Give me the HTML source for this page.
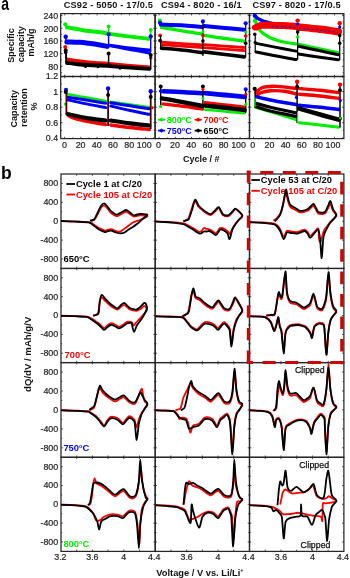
<!DOCTYPE html>
<html><head><meta charset="utf-8"><style>
html,body{margin:0;padding:0;background:#fff;}
svg{display:block;filter:blur(0.35px);}
text{font-family:"Liberation Sans", sans-serif;}
</style></head><body>
<svg width="350" height="578" viewBox="0 0 350 578">
<rect width="350" height="578" fill="#fff"/>
<rect x="60.7" y="13.6" width="94.4" height="62.9" fill="none" stroke="#262626" stroke-width="1.25"/>
<rect x="60.7" y="76.5" width="94.4" height="62.1" fill="none" stroke="#262626" stroke-width="1.25"/>
<line x1="64.7" y1="13.6" x2="64.7" y2="15.4" stroke="#262626" stroke-width="0.8"/>
<line x1="64.7" y1="76.5" x2="64.7" y2="74.7" stroke="#262626" stroke-width="0.8"/>
<line x1="64.7" y1="76.5" x2="64.7" y2="78.3" stroke="#262626" stroke-width="0.8"/>
<line x1="64.7" y1="138.6" x2="64.7" y2="136.8" stroke="#262626" stroke-width="0.8"/>
<line x1="72.8" y1="13.6" x2="72.8" y2="14.8" stroke="#262626" stroke-width="0.8"/>
<line x1="72.8" y1="76.5" x2="72.8" y2="75.3" stroke="#262626" stroke-width="0.8"/>
<line x1="72.8" y1="76.5" x2="72.8" y2="77.7" stroke="#262626" stroke-width="0.8"/>
<line x1="72.8" y1="138.6" x2="72.8" y2="137.4" stroke="#262626" stroke-width="0.8"/>
<line x1="80.9" y1="13.6" x2="80.9" y2="15.4" stroke="#262626" stroke-width="0.8"/>
<line x1="80.9" y1="76.5" x2="80.9" y2="74.7" stroke="#262626" stroke-width="0.8"/>
<line x1="80.9" y1="76.5" x2="80.9" y2="78.3" stroke="#262626" stroke-width="0.8"/>
<line x1="80.9" y1="138.6" x2="80.9" y2="136.8" stroke="#262626" stroke-width="0.8"/>
<line x1="89" y1="13.6" x2="89" y2="14.8" stroke="#262626" stroke-width="0.8"/>
<line x1="89" y1="76.5" x2="89" y2="75.3" stroke="#262626" stroke-width="0.8"/>
<line x1="89" y1="76.5" x2="89" y2="77.7" stroke="#262626" stroke-width="0.8"/>
<line x1="89" y1="138.6" x2="89" y2="137.4" stroke="#262626" stroke-width="0.8"/>
<line x1="97.1" y1="13.6" x2="97.1" y2="15.4" stroke="#262626" stroke-width="0.8"/>
<line x1="97.1" y1="76.5" x2="97.1" y2="74.7" stroke="#262626" stroke-width="0.8"/>
<line x1="97.1" y1="76.5" x2="97.1" y2="78.3" stroke="#262626" stroke-width="0.8"/>
<line x1="97.1" y1="138.6" x2="97.1" y2="136.8" stroke="#262626" stroke-width="0.8"/>
<line x1="105.2" y1="13.6" x2="105.2" y2="14.8" stroke="#262626" stroke-width="0.8"/>
<line x1="105.2" y1="76.5" x2="105.2" y2="75.3" stroke="#262626" stroke-width="0.8"/>
<line x1="105.2" y1="76.5" x2="105.2" y2="77.7" stroke="#262626" stroke-width="0.8"/>
<line x1="105.2" y1="138.6" x2="105.2" y2="137.4" stroke="#262626" stroke-width="0.8"/>
<line x1="113.3" y1="13.6" x2="113.3" y2="15.4" stroke="#262626" stroke-width="0.8"/>
<line x1="113.3" y1="76.5" x2="113.3" y2="74.7" stroke="#262626" stroke-width="0.8"/>
<line x1="113.3" y1="76.5" x2="113.3" y2="78.3" stroke="#262626" stroke-width="0.8"/>
<line x1="113.3" y1="138.6" x2="113.3" y2="136.8" stroke="#262626" stroke-width="0.8"/>
<line x1="121.4" y1="13.6" x2="121.4" y2="14.8" stroke="#262626" stroke-width="0.8"/>
<line x1="121.4" y1="76.5" x2="121.4" y2="75.3" stroke="#262626" stroke-width="0.8"/>
<line x1="121.4" y1="76.5" x2="121.4" y2="77.7" stroke="#262626" stroke-width="0.8"/>
<line x1="121.4" y1="138.6" x2="121.4" y2="137.4" stroke="#262626" stroke-width="0.8"/>
<line x1="129.5" y1="13.6" x2="129.5" y2="15.4" stroke="#262626" stroke-width="0.8"/>
<line x1="129.5" y1="76.5" x2="129.5" y2="74.7" stroke="#262626" stroke-width="0.8"/>
<line x1="129.5" y1="76.5" x2="129.5" y2="78.3" stroke="#262626" stroke-width="0.8"/>
<line x1="129.5" y1="138.6" x2="129.5" y2="136.8" stroke="#262626" stroke-width="0.8"/>
<line x1="137.6" y1="13.6" x2="137.6" y2="14.8" stroke="#262626" stroke-width="0.8"/>
<line x1="137.6" y1="76.5" x2="137.6" y2="75.3" stroke="#262626" stroke-width="0.8"/>
<line x1="137.6" y1="76.5" x2="137.6" y2="77.7" stroke="#262626" stroke-width="0.8"/>
<line x1="137.6" y1="138.6" x2="137.6" y2="137.4" stroke="#262626" stroke-width="0.8"/>
<line x1="145.7" y1="13.6" x2="145.7" y2="15.4" stroke="#262626" stroke-width="0.8"/>
<line x1="145.7" y1="76.5" x2="145.7" y2="74.7" stroke="#262626" stroke-width="0.8"/>
<line x1="145.7" y1="76.5" x2="145.7" y2="78.3" stroke="#262626" stroke-width="0.8"/>
<line x1="145.7" y1="138.6" x2="145.7" y2="136.8" stroke="#262626" stroke-width="0.8"/>
<line x1="153.8" y1="13.6" x2="153.8" y2="14.8" stroke="#262626" stroke-width="0.8"/>
<line x1="153.8" y1="76.5" x2="153.8" y2="75.3" stroke="#262626" stroke-width="0.8"/>
<line x1="153.8" y1="76.5" x2="153.8" y2="77.7" stroke="#262626" stroke-width="0.8"/>
<line x1="153.8" y1="138.6" x2="153.8" y2="137.4" stroke="#262626" stroke-width="0.8"/>
<rect x="155.1" y="13.6" width="94.4" height="62.9" fill="none" stroke="#262626" stroke-width="1.25"/>
<rect x="155.1" y="76.5" width="94.4" height="62.1" fill="none" stroke="#262626" stroke-width="1.25"/>
<line x1="159.1" y1="13.6" x2="159.1" y2="15.4" stroke="#262626" stroke-width="0.8"/>
<line x1="159.1" y1="76.5" x2="159.1" y2="74.7" stroke="#262626" stroke-width="0.8"/>
<line x1="159.1" y1="76.5" x2="159.1" y2="78.3" stroke="#262626" stroke-width="0.8"/>
<line x1="159.1" y1="138.6" x2="159.1" y2="136.8" stroke="#262626" stroke-width="0.8"/>
<line x1="167.2" y1="13.6" x2="167.2" y2="14.8" stroke="#262626" stroke-width="0.8"/>
<line x1="167.2" y1="76.5" x2="167.2" y2="75.3" stroke="#262626" stroke-width="0.8"/>
<line x1="167.2" y1="76.5" x2="167.2" y2="77.7" stroke="#262626" stroke-width="0.8"/>
<line x1="167.2" y1="138.6" x2="167.2" y2="137.4" stroke="#262626" stroke-width="0.8"/>
<line x1="175.3" y1="13.6" x2="175.3" y2="15.4" stroke="#262626" stroke-width="0.8"/>
<line x1="175.3" y1="76.5" x2="175.3" y2="74.7" stroke="#262626" stroke-width="0.8"/>
<line x1="175.3" y1="76.5" x2="175.3" y2="78.3" stroke="#262626" stroke-width="0.8"/>
<line x1="175.3" y1="138.6" x2="175.3" y2="136.8" stroke="#262626" stroke-width="0.8"/>
<line x1="183.4" y1="13.6" x2="183.4" y2="14.8" stroke="#262626" stroke-width="0.8"/>
<line x1="183.4" y1="76.5" x2="183.4" y2="75.3" stroke="#262626" stroke-width="0.8"/>
<line x1="183.4" y1="76.5" x2="183.4" y2="77.7" stroke="#262626" stroke-width="0.8"/>
<line x1="183.4" y1="138.6" x2="183.4" y2="137.4" stroke="#262626" stroke-width="0.8"/>
<line x1="191.5" y1="13.6" x2="191.5" y2="15.4" stroke="#262626" stroke-width="0.8"/>
<line x1="191.5" y1="76.5" x2="191.5" y2="74.7" stroke="#262626" stroke-width="0.8"/>
<line x1="191.5" y1="76.5" x2="191.5" y2="78.3" stroke="#262626" stroke-width="0.8"/>
<line x1="191.5" y1="138.6" x2="191.5" y2="136.8" stroke="#262626" stroke-width="0.8"/>
<line x1="199.6" y1="13.6" x2="199.6" y2="14.8" stroke="#262626" stroke-width="0.8"/>
<line x1="199.6" y1="76.5" x2="199.6" y2="75.3" stroke="#262626" stroke-width="0.8"/>
<line x1="199.6" y1="76.5" x2="199.6" y2="77.7" stroke="#262626" stroke-width="0.8"/>
<line x1="199.6" y1="138.6" x2="199.6" y2="137.4" stroke="#262626" stroke-width="0.8"/>
<line x1="207.7" y1="13.6" x2="207.7" y2="15.4" stroke="#262626" stroke-width="0.8"/>
<line x1="207.7" y1="76.5" x2="207.7" y2="74.7" stroke="#262626" stroke-width="0.8"/>
<line x1="207.7" y1="76.5" x2="207.7" y2="78.3" stroke="#262626" stroke-width="0.8"/>
<line x1="207.7" y1="138.6" x2="207.7" y2="136.8" stroke="#262626" stroke-width="0.8"/>
<line x1="215.8" y1="13.6" x2="215.8" y2="14.8" stroke="#262626" stroke-width="0.8"/>
<line x1="215.8" y1="76.5" x2="215.8" y2="75.3" stroke="#262626" stroke-width="0.8"/>
<line x1="215.8" y1="76.5" x2="215.8" y2="77.7" stroke="#262626" stroke-width="0.8"/>
<line x1="215.8" y1="138.6" x2="215.8" y2="137.4" stroke="#262626" stroke-width="0.8"/>
<line x1="223.9" y1="13.6" x2="223.9" y2="15.4" stroke="#262626" stroke-width="0.8"/>
<line x1="223.9" y1="76.5" x2="223.9" y2="74.7" stroke="#262626" stroke-width="0.8"/>
<line x1="223.9" y1="76.5" x2="223.9" y2="78.3" stroke="#262626" stroke-width="0.8"/>
<line x1="223.9" y1="138.6" x2="223.9" y2="136.8" stroke="#262626" stroke-width="0.8"/>
<line x1="232" y1="13.6" x2="232" y2="14.8" stroke="#262626" stroke-width="0.8"/>
<line x1="232" y1="76.5" x2="232" y2="75.3" stroke="#262626" stroke-width="0.8"/>
<line x1="232" y1="76.5" x2="232" y2="77.7" stroke="#262626" stroke-width="0.8"/>
<line x1="232" y1="138.6" x2="232" y2="137.4" stroke="#262626" stroke-width="0.8"/>
<line x1="240.1" y1="13.6" x2="240.1" y2="15.4" stroke="#262626" stroke-width="0.8"/>
<line x1="240.1" y1="76.5" x2="240.1" y2="74.7" stroke="#262626" stroke-width="0.8"/>
<line x1="240.1" y1="76.5" x2="240.1" y2="78.3" stroke="#262626" stroke-width="0.8"/>
<line x1="240.1" y1="138.6" x2="240.1" y2="136.8" stroke="#262626" stroke-width="0.8"/>
<line x1="248.2" y1="13.6" x2="248.2" y2="14.8" stroke="#262626" stroke-width="0.8"/>
<line x1="248.2" y1="76.5" x2="248.2" y2="75.3" stroke="#262626" stroke-width="0.8"/>
<line x1="248.2" y1="76.5" x2="248.2" y2="77.7" stroke="#262626" stroke-width="0.8"/>
<line x1="248.2" y1="138.6" x2="248.2" y2="137.4" stroke="#262626" stroke-width="0.8"/>
<rect x="249.5" y="13.6" width="94.4" height="62.9" fill="none" stroke="#262626" stroke-width="1.25"/>
<rect x="249.5" y="76.5" width="94.4" height="62.1" fill="none" stroke="#262626" stroke-width="1.25"/>
<line x1="253.5" y1="13.6" x2="253.5" y2="15.4" stroke="#262626" stroke-width="0.8"/>
<line x1="253.5" y1="76.5" x2="253.5" y2="74.7" stroke="#262626" stroke-width="0.8"/>
<line x1="253.5" y1="76.5" x2="253.5" y2="78.3" stroke="#262626" stroke-width="0.8"/>
<line x1="253.5" y1="138.6" x2="253.5" y2="136.8" stroke="#262626" stroke-width="0.8"/>
<line x1="261.6" y1="13.6" x2="261.6" y2="14.8" stroke="#262626" stroke-width="0.8"/>
<line x1="261.6" y1="76.5" x2="261.6" y2="75.3" stroke="#262626" stroke-width="0.8"/>
<line x1="261.6" y1="76.5" x2="261.6" y2="77.7" stroke="#262626" stroke-width="0.8"/>
<line x1="261.6" y1="138.6" x2="261.6" y2="137.4" stroke="#262626" stroke-width="0.8"/>
<line x1="269.7" y1="13.6" x2="269.7" y2="15.4" stroke="#262626" stroke-width="0.8"/>
<line x1="269.7" y1="76.5" x2="269.7" y2="74.7" stroke="#262626" stroke-width="0.8"/>
<line x1="269.7" y1="76.5" x2="269.7" y2="78.3" stroke="#262626" stroke-width="0.8"/>
<line x1="269.7" y1="138.6" x2="269.7" y2="136.8" stroke="#262626" stroke-width="0.8"/>
<line x1="277.8" y1="13.6" x2="277.8" y2="14.8" stroke="#262626" stroke-width="0.8"/>
<line x1="277.8" y1="76.5" x2="277.8" y2="75.3" stroke="#262626" stroke-width="0.8"/>
<line x1="277.8" y1="76.5" x2="277.8" y2="77.7" stroke="#262626" stroke-width="0.8"/>
<line x1="277.8" y1="138.6" x2="277.8" y2="137.4" stroke="#262626" stroke-width="0.8"/>
<line x1="285.9" y1="13.6" x2="285.9" y2="15.4" stroke="#262626" stroke-width="0.8"/>
<line x1="285.9" y1="76.5" x2="285.9" y2="74.7" stroke="#262626" stroke-width="0.8"/>
<line x1="285.9" y1="76.5" x2="285.9" y2="78.3" stroke="#262626" stroke-width="0.8"/>
<line x1="285.9" y1="138.6" x2="285.9" y2="136.8" stroke="#262626" stroke-width="0.8"/>
<line x1="294" y1="13.6" x2="294" y2="14.8" stroke="#262626" stroke-width="0.8"/>
<line x1="294" y1="76.5" x2="294" y2="75.3" stroke="#262626" stroke-width="0.8"/>
<line x1="294" y1="76.5" x2="294" y2="77.7" stroke="#262626" stroke-width="0.8"/>
<line x1="294" y1="138.6" x2="294" y2="137.4" stroke="#262626" stroke-width="0.8"/>
<line x1="302.1" y1="13.6" x2="302.1" y2="15.4" stroke="#262626" stroke-width="0.8"/>
<line x1="302.1" y1="76.5" x2="302.1" y2="74.7" stroke="#262626" stroke-width="0.8"/>
<line x1="302.1" y1="76.5" x2="302.1" y2="78.3" stroke="#262626" stroke-width="0.8"/>
<line x1="302.1" y1="138.6" x2="302.1" y2="136.8" stroke="#262626" stroke-width="0.8"/>
<line x1="310.2" y1="13.6" x2="310.2" y2="14.8" stroke="#262626" stroke-width="0.8"/>
<line x1="310.2" y1="76.5" x2="310.2" y2="75.3" stroke="#262626" stroke-width="0.8"/>
<line x1="310.2" y1="76.5" x2="310.2" y2="77.7" stroke="#262626" stroke-width="0.8"/>
<line x1="310.2" y1="138.6" x2="310.2" y2="137.4" stroke="#262626" stroke-width="0.8"/>
<line x1="318.3" y1="13.6" x2="318.3" y2="15.4" stroke="#262626" stroke-width="0.8"/>
<line x1="318.3" y1="76.5" x2="318.3" y2="74.7" stroke="#262626" stroke-width="0.8"/>
<line x1="318.3" y1="76.5" x2="318.3" y2="78.3" stroke="#262626" stroke-width="0.8"/>
<line x1="318.3" y1="138.6" x2="318.3" y2="136.8" stroke="#262626" stroke-width="0.8"/>
<line x1="326.4" y1="13.6" x2="326.4" y2="14.8" stroke="#262626" stroke-width="0.8"/>
<line x1="326.4" y1="76.5" x2="326.4" y2="75.3" stroke="#262626" stroke-width="0.8"/>
<line x1="326.4" y1="76.5" x2="326.4" y2="77.7" stroke="#262626" stroke-width="0.8"/>
<line x1="326.4" y1="138.6" x2="326.4" y2="137.4" stroke="#262626" stroke-width="0.8"/>
<line x1="334.5" y1="13.6" x2="334.5" y2="15.4" stroke="#262626" stroke-width="0.8"/>
<line x1="334.5" y1="76.5" x2="334.5" y2="74.7" stroke="#262626" stroke-width="0.8"/>
<line x1="334.5" y1="76.5" x2="334.5" y2="78.3" stroke="#262626" stroke-width="0.8"/>
<line x1="334.5" y1="138.6" x2="334.5" y2="136.8" stroke="#262626" stroke-width="0.8"/>
<line x1="342.6" y1="13.6" x2="342.6" y2="14.8" stroke="#262626" stroke-width="0.8"/>
<line x1="342.6" y1="76.5" x2="342.6" y2="75.3" stroke="#262626" stroke-width="0.8"/>
<line x1="342.6" y1="76.5" x2="342.6" y2="77.7" stroke="#262626" stroke-width="0.8"/>
<line x1="342.6" y1="138.6" x2="342.6" y2="137.4" stroke="#262626" stroke-width="0.8"/>
<line x1="60.7" y1="72.66" x2="61.9" y2="72.66" stroke="#262626" stroke-width="0.8"/>
<line x1="155.1" y1="72.66" x2="153.9" y2="72.66" stroke="#262626" stroke-width="0.8"/>
<line x1="60.7" y1="66.32" x2="62.5" y2="66.32" stroke="#262626" stroke-width="0.8"/>
<line x1="155.1" y1="66.32" x2="153.3" y2="66.32" stroke="#262626" stroke-width="0.8"/>
<line x1="60.7" y1="59.98" x2="61.9" y2="59.98" stroke="#262626" stroke-width="0.8"/>
<line x1="155.1" y1="59.98" x2="153.9" y2="59.98" stroke="#262626" stroke-width="0.8"/>
<line x1="60.7" y1="53.64" x2="62.5" y2="53.64" stroke="#262626" stroke-width="0.8"/>
<line x1="155.1" y1="53.64" x2="153.3" y2="53.64" stroke="#262626" stroke-width="0.8"/>
<line x1="60.7" y1="47.3" x2="61.9" y2="47.3" stroke="#262626" stroke-width="0.8"/>
<line x1="155.1" y1="47.3" x2="153.9" y2="47.3" stroke="#262626" stroke-width="0.8"/>
<line x1="60.7" y1="40.96" x2="62.5" y2="40.96" stroke="#262626" stroke-width="0.8"/>
<line x1="155.1" y1="40.96" x2="153.3" y2="40.96" stroke="#262626" stroke-width="0.8"/>
<line x1="60.7" y1="34.62" x2="61.9" y2="34.62" stroke="#262626" stroke-width="0.8"/>
<line x1="155.1" y1="34.62" x2="153.9" y2="34.62" stroke="#262626" stroke-width="0.8"/>
<line x1="60.7" y1="28.28" x2="62.5" y2="28.28" stroke="#262626" stroke-width="0.8"/>
<line x1="155.1" y1="28.28" x2="153.3" y2="28.28" stroke="#262626" stroke-width="0.8"/>
<line x1="60.7" y1="21.94" x2="61.9" y2="21.94" stroke="#262626" stroke-width="0.8"/>
<line x1="155.1" y1="21.94" x2="153.9" y2="21.94" stroke="#262626" stroke-width="0.8"/>
<line x1="60.7" y1="15.6" x2="62.5" y2="15.6" stroke="#262626" stroke-width="0.8"/>
<line x1="155.1" y1="15.6" x2="153.3" y2="15.6" stroke="#262626" stroke-width="0.8"/>
<line x1="60.7" y1="130.45" x2="61.9" y2="130.45" stroke="#262626" stroke-width="0.8"/>
<line x1="155.1" y1="130.45" x2="153.9" y2="130.45" stroke="#262626" stroke-width="0.8"/>
<line x1="60.7" y1="122.7" x2="62.5" y2="122.7" stroke="#262626" stroke-width="0.8"/>
<line x1="155.1" y1="122.7" x2="153.3" y2="122.7" stroke="#262626" stroke-width="0.8"/>
<line x1="60.7" y1="114.95" x2="61.9" y2="114.95" stroke="#262626" stroke-width="0.8"/>
<line x1="155.1" y1="114.95" x2="153.9" y2="114.95" stroke="#262626" stroke-width="0.8"/>
<line x1="60.7" y1="107.2" x2="62.5" y2="107.2" stroke="#262626" stroke-width="0.8"/>
<line x1="155.1" y1="107.2" x2="153.3" y2="107.2" stroke="#262626" stroke-width="0.8"/>
<line x1="60.7" y1="99.45" x2="61.9" y2="99.45" stroke="#262626" stroke-width="0.8"/>
<line x1="155.1" y1="99.45" x2="153.9" y2="99.45" stroke="#262626" stroke-width="0.8"/>
<line x1="60.7" y1="91.7" x2="62.5" y2="91.7" stroke="#262626" stroke-width="0.8"/>
<line x1="155.1" y1="91.7" x2="153.3" y2="91.7" stroke="#262626" stroke-width="0.8"/>
<line x1="60.7" y1="83.95" x2="61.9" y2="83.95" stroke="#262626" stroke-width="0.8"/>
<line x1="155.1" y1="83.95" x2="153.9" y2="83.95" stroke="#262626" stroke-width="0.8"/>
<line x1="155.1" y1="72.66" x2="156.3" y2="72.66" stroke="#262626" stroke-width="0.8"/>
<line x1="249.5" y1="72.66" x2="248.3" y2="72.66" stroke="#262626" stroke-width="0.8"/>
<line x1="155.1" y1="66.32" x2="156.9" y2="66.32" stroke="#262626" stroke-width="0.8"/>
<line x1="249.5" y1="66.32" x2="247.7" y2="66.32" stroke="#262626" stroke-width="0.8"/>
<line x1="155.1" y1="59.98" x2="156.3" y2="59.98" stroke="#262626" stroke-width="0.8"/>
<line x1="249.5" y1="59.98" x2="248.3" y2="59.98" stroke="#262626" stroke-width="0.8"/>
<line x1="155.1" y1="53.64" x2="156.9" y2="53.64" stroke="#262626" stroke-width="0.8"/>
<line x1="249.5" y1="53.64" x2="247.7" y2="53.64" stroke="#262626" stroke-width="0.8"/>
<line x1="155.1" y1="47.3" x2="156.3" y2="47.3" stroke="#262626" stroke-width="0.8"/>
<line x1="249.5" y1="47.3" x2="248.3" y2="47.3" stroke="#262626" stroke-width="0.8"/>
<line x1="155.1" y1="40.96" x2="156.9" y2="40.96" stroke="#262626" stroke-width="0.8"/>
<line x1="249.5" y1="40.96" x2="247.7" y2="40.96" stroke="#262626" stroke-width="0.8"/>
<line x1="155.1" y1="34.62" x2="156.3" y2="34.62" stroke="#262626" stroke-width="0.8"/>
<line x1="249.5" y1="34.62" x2="248.3" y2="34.62" stroke="#262626" stroke-width="0.8"/>
<line x1="155.1" y1="28.28" x2="156.9" y2="28.28" stroke="#262626" stroke-width="0.8"/>
<line x1="249.5" y1="28.28" x2="247.7" y2="28.28" stroke="#262626" stroke-width="0.8"/>
<line x1="155.1" y1="21.94" x2="156.3" y2="21.94" stroke="#262626" stroke-width="0.8"/>
<line x1="249.5" y1="21.94" x2="248.3" y2="21.94" stroke="#262626" stroke-width="0.8"/>
<line x1="155.1" y1="15.6" x2="156.9" y2="15.6" stroke="#262626" stroke-width="0.8"/>
<line x1="249.5" y1="15.6" x2="247.7" y2="15.6" stroke="#262626" stroke-width="0.8"/>
<line x1="155.1" y1="130.45" x2="156.3" y2="130.45" stroke="#262626" stroke-width="0.8"/>
<line x1="249.5" y1="130.45" x2="248.3" y2="130.45" stroke="#262626" stroke-width="0.8"/>
<line x1="155.1" y1="122.7" x2="156.9" y2="122.7" stroke="#262626" stroke-width="0.8"/>
<line x1="249.5" y1="122.7" x2="247.7" y2="122.7" stroke="#262626" stroke-width="0.8"/>
<line x1="155.1" y1="114.95" x2="156.3" y2="114.95" stroke="#262626" stroke-width="0.8"/>
<line x1="249.5" y1="114.95" x2="248.3" y2="114.95" stroke="#262626" stroke-width="0.8"/>
<line x1="155.1" y1="107.2" x2="156.9" y2="107.2" stroke="#262626" stroke-width="0.8"/>
<line x1="249.5" y1="107.2" x2="247.7" y2="107.2" stroke="#262626" stroke-width="0.8"/>
<line x1="155.1" y1="99.45" x2="156.3" y2="99.45" stroke="#262626" stroke-width="0.8"/>
<line x1="249.5" y1="99.45" x2="248.3" y2="99.45" stroke="#262626" stroke-width="0.8"/>
<line x1="155.1" y1="91.7" x2="156.9" y2="91.7" stroke="#262626" stroke-width="0.8"/>
<line x1="249.5" y1="91.7" x2="247.7" y2="91.7" stroke="#262626" stroke-width="0.8"/>
<line x1="155.1" y1="83.95" x2="156.3" y2="83.95" stroke="#262626" stroke-width="0.8"/>
<line x1="249.5" y1="83.95" x2="248.3" y2="83.95" stroke="#262626" stroke-width="0.8"/>
<line x1="249.5" y1="72.66" x2="250.7" y2="72.66" stroke="#262626" stroke-width="0.8"/>
<line x1="343.9" y1="72.66" x2="342.7" y2="72.66" stroke="#262626" stroke-width="0.8"/>
<line x1="249.5" y1="66.32" x2="251.3" y2="66.32" stroke="#262626" stroke-width="0.8"/>
<line x1="343.9" y1="66.32" x2="342.1" y2="66.32" stroke="#262626" stroke-width="0.8"/>
<line x1="249.5" y1="59.98" x2="250.7" y2="59.98" stroke="#262626" stroke-width="0.8"/>
<line x1="343.9" y1="59.98" x2="342.7" y2="59.98" stroke="#262626" stroke-width="0.8"/>
<line x1="249.5" y1="53.64" x2="251.3" y2="53.64" stroke="#262626" stroke-width="0.8"/>
<line x1="343.9" y1="53.64" x2="342.1" y2="53.64" stroke="#262626" stroke-width="0.8"/>
<line x1="249.5" y1="47.3" x2="250.7" y2="47.3" stroke="#262626" stroke-width="0.8"/>
<line x1="343.9" y1="47.3" x2="342.7" y2="47.3" stroke="#262626" stroke-width="0.8"/>
<line x1="249.5" y1="40.96" x2="251.3" y2="40.96" stroke="#262626" stroke-width="0.8"/>
<line x1="343.9" y1="40.96" x2="342.1" y2="40.96" stroke="#262626" stroke-width="0.8"/>
<line x1="249.5" y1="34.62" x2="250.7" y2="34.62" stroke="#262626" stroke-width="0.8"/>
<line x1="343.9" y1="34.62" x2="342.7" y2="34.62" stroke="#262626" stroke-width="0.8"/>
<line x1="249.5" y1="28.28" x2="251.3" y2="28.28" stroke="#262626" stroke-width="0.8"/>
<line x1="343.9" y1="28.28" x2="342.1" y2="28.28" stroke="#262626" stroke-width="0.8"/>
<line x1="249.5" y1="21.94" x2="250.7" y2="21.94" stroke="#262626" stroke-width="0.8"/>
<line x1="343.9" y1="21.94" x2="342.7" y2="21.94" stroke="#262626" stroke-width="0.8"/>
<line x1="249.5" y1="15.6" x2="251.3" y2="15.6" stroke="#262626" stroke-width="0.8"/>
<line x1="343.9" y1="15.6" x2="342.1" y2="15.6" stroke="#262626" stroke-width="0.8"/>
<line x1="249.5" y1="130.45" x2="250.7" y2="130.45" stroke="#262626" stroke-width="0.8"/>
<line x1="343.9" y1="130.45" x2="342.7" y2="130.45" stroke="#262626" stroke-width="0.8"/>
<line x1="249.5" y1="122.7" x2="251.3" y2="122.7" stroke="#262626" stroke-width="0.8"/>
<line x1="343.9" y1="122.7" x2="342.1" y2="122.7" stroke="#262626" stroke-width="0.8"/>
<line x1="249.5" y1="114.95" x2="250.7" y2="114.95" stroke="#262626" stroke-width="0.8"/>
<line x1="343.9" y1="114.95" x2="342.7" y2="114.95" stroke="#262626" stroke-width="0.8"/>
<line x1="249.5" y1="107.2" x2="251.3" y2="107.2" stroke="#262626" stroke-width="0.8"/>
<line x1="343.9" y1="107.2" x2="342.1" y2="107.2" stroke="#262626" stroke-width="0.8"/>
<line x1="249.5" y1="99.45" x2="250.7" y2="99.45" stroke="#262626" stroke-width="0.8"/>
<line x1="343.9" y1="99.45" x2="342.7" y2="99.45" stroke="#262626" stroke-width="0.8"/>
<line x1="249.5" y1="91.7" x2="251.3" y2="91.7" stroke="#262626" stroke-width="0.8"/>
<line x1="343.9" y1="91.7" x2="342.1" y2="91.7" stroke="#262626" stroke-width="0.8"/>
<line x1="249.5" y1="83.95" x2="250.7" y2="83.95" stroke="#262626" stroke-width="0.8"/>
<line x1="343.9" y1="83.95" x2="342.7" y2="83.95" stroke="#262626" stroke-width="0.8"/>
<text x="58.2" y="18.89" font-size="8.9" font-weight="normal" text-anchor="end" fill="#1a1a1a"  stroke="#1a1a1a" stroke-width="0.18">240</text>
<text x="58.2" y="31.57" font-size="8.9" font-weight="normal" text-anchor="end" fill="#1a1a1a"  stroke="#1a1a1a" stroke-width="0.18">200</text>
<text x="58.2" y="44.25" font-size="8.9" font-weight="normal" text-anchor="end" fill="#1a1a1a"  stroke="#1a1a1a" stroke-width="0.18">160</text>
<text x="58.2" y="56.93" font-size="8.9" font-weight="normal" text-anchor="end" fill="#1a1a1a"  stroke="#1a1a1a" stroke-width="0.18">120</text>
<text x="58.2" y="69.61" font-size="8.9" font-weight="normal" text-anchor="end" fill="#1a1a1a"  stroke="#1a1a1a" stroke-width="0.18">80</text>
<text x="58.2" y="79.49" font-size="8.9" font-weight="normal" text-anchor="end" fill="#1a1a1a"  stroke="#1a1a1a" stroke-width="0.18">1.2</text>
<text x="58.2" y="94.99" font-size="8.9" font-weight="normal" text-anchor="end" fill="#1a1a1a"  stroke="#1a1a1a" stroke-width="0.18">1</text>
<text x="58.2" y="110.49" font-size="8.9" font-weight="normal" text-anchor="end" fill="#1a1a1a"  stroke="#1a1a1a" stroke-width="0.18">0.8</text>
<text x="58.2" y="125.99" font-size="8.9" font-weight="normal" text-anchor="end" fill="#1a1a1a"  stroke="#1a1a1a" stroke-width="0.18">0.6</text>
<text x="58.2" y="141.49" font-size="8.9" font-weight="normal" text-anchor="end" fill="#1a1a1a"  stroke="#1a1a1a" stroke-width="0.18">0.4</text>
<text x="64.4" y="148.1" font-size="8.9" font-weight="normal" text-anchor="middle" fill="#1a1a1a"  stroke="#1a1a1a" stroke-width="0.18">0</text>
<text x="80.6" y="148.1" font-size="8.9" font-weight="normal" text-anchor="middle" fill="#1a1a1a"  stroke="#1a1a1a" stroke-width="0.18">20</text>
<text x="96.8" y="148.1" font-size="8.9" font-weight="normal" text-anchor="middle" fill="#1a1a1a"  stroke="#1a1a1a" stroke-width="0.18">40</text>
<text x="113" y="148.1" font-size="8.9" font-weight="normal" text-anchor="middle" fill="#1a1a1a"  stroke="#1a1a1a" stroke-width="0.18">60</text>
<text x="129.2" y="148.1" font-size="8.9" font-weight="normal" text-anchor="middle" fill="#1a1a1a"  stroke="#1a1a1a" stroke-width="0.18">80</text>
<text x="144.2" y="148.1" font-size="8.9" font-weight="normal" text-anchor="middle" fill="#1a1a1a"  stroke="#1a1a1a" stroke-width="0.18">100</text>
<text x="158.4" y="148.1" font-size="8.9" font-weight="normal" text-anchor="middle" fill="#1a1a1a"  stroke="#1a1a1a" stroke-width="0.18">0</text>
<text x="175" y="148.1" font-size="8.9" font-weight="normal" text-anchor="middle" fill="#1a1a1a"  stroke="#1a1a1a" stroke-width="0.18">20</text>
<text x="191.2" y="148.1" font-size="8.9" font-weight="normal" text-anchor="middle" fill="#1a1a1a"  stroke="#1a1a1a" stroke-width="0.18">40</text>
<text x="207.4" y="148.1" font-size="8.9" font-weight="normal" text-anchor="middle" fill="#1a1a1a"  stroke="#1a1a1a" stroke-width="0.18">60</text>
<text x="223.6" y="148.1" font-size="8.9" font-weight="normal" text-anchor="middle" fill="#1a1a1a"  stroke="#1a1a1a" stroke-width="0.18">80</text>
<text x="238.6" y="148.1" font-size="8.9" font-weight="normal" text-anchor="middle" fill="#1a1a1a"  stroke="#1a1a1a" stroke-width="0.18">100</text>
<text x="252.8" y="148.1" font-size="8.9" font-weight="normal" text-anchor="middle" fill="#1a1a1a"  stroke="#1a1a1a" stroke-width="0.18">0</text>
<text x="269.4" y="148.1" font-size="8.9" font-weight="normal" text-anchor="middle" fill="#1a1a1a"  stroke="#1a1a1a" stroke-width="0.18">20</text>
<text x="285.6" y="148.1" font-size="8.9" font-weight="normal" text-anchor="middle" fill="#1a1a1a"  stroke="#1a1a1a" stroke-width="0.18">40</text>
<text x="301.8" y="148.1" font-size="8.9" font-weight="normal" text-anchor="middle" fill="#1a1a1a"  stroke="#1a1a1a" stroke-width="0.18">60</text>
<text x="318" y="148.1" font-size="8.9" font-weight="normal" text-anchor="middle" fill="#1a1a1a"  stroke="#1a1a1a" stroke-width="0.18">80</text>
<text x="333" y="148.1" font-size="8.9" font-weight="normal" text-anchor="middle" fill="#1a1a1a"  stroke="#1a1a1a" stroke-width="0.18">100</text>
<text x="63.7" y="8.4" font-size="9.2" font-weight="bold" text-anchor="start" fill="#111" textLength="89.2" lengthAdjust="spacing">CS92 - 5050 - 17/0.5</text>
<text x="161" y="8.4" font-size="9.2" font-weight="bold" text-anchor="start" fill="#111" textLength="80.6" lengthAdjust="spacing">CS94 - 8020 - 16/1</text>
<text x="252.5" y="8.4" font-size="9.2" font-weight="bold" text-anchor="start" fill="#111" textLength="88.0" lengthAdjust="spacing">CS97 - 8020 - 17/0.5</text>
<text transform="scale(0.8,1)" x="1.6" y="9.9" font-size="17.5" font-weight="bold" fill="#000">a</text>
<text x="1" y="178.9" font-size="17.5" font-weight="bold" text-anchor="start" fill="#000" >b</text>
<text transform="translate(13.6,45.4) rotate(-90)" x="0" y="0" font-size="9" font-weight="bold" text-anchor="middle" fill="#111">Specific</text>
<text transform="translate(23.6,44.2) rotate(-90)" x="0" y="0" font-size="9" font-weight="bold" text-anchor="middle" fill="#111">capacity</text>
<text transform="translate(33.6,42.4) rotate(-90)" x="0" y="0" font-size="9" font-weight="bold" text-anchor="middle" fill="#111">mAh/g</text>
<text transform="translate(16.9,108.8) rotate(-90)" x="0" y="0" font-size="9" font-weight="bold" text-anchor="middle" fill="#111">Capacity</text>
<text transform="translate(26.9,107.4) rotate(-90)" x="0" y="0" font-size="9" font-weight="bold" text-anchor="middle" fill="#111">retention</text>
<text transform="translate(36.9,106.6) rotate(-90)" x="0" y="0" font-size="9" font-weight="bold" text-anchor="middle" fill="#111">%</text>
<text x="183" y="161.8" font-size="9" font-weight="bold" text-anchor="start" fill="#111" >Cycle / #</text>
<line x1="157.9" y1="119.7" x2="165.1" y2="119.7" stroke="#00ee00" stroke-width="1.7"/>
<path d="M161.5,117.6 l2.7,2.1 l-2.7,2.1 l-2.7,-2.1 z" fill="#00ee00"/>
<text x="166.8" y="122.9" font-size="9" font-weight="bold" fill="#00ee00">800<tspan font-size="5.5" dy="-3.2">o</tspan><tspan dy="3.2">C</tspan></text>
<line x1="194.6" y1="119.7" x2="201.8" y2="119.7" stroke="#f80000" stroke-width="1.7"/>
<path d="M198.2,117.6 l2.7,2.1 l-2.7,2.1 l-2.7,-2.1 z" fill="#f80000"/>
<text x="203.5" y="122.9" font-size="9" font-weight="bold" fill="#f80000">700<tspan font-size="5.5" dy="-3.2">o</tspan><tspan dy="3.2">C</tspan></text>
<line x1="157.9" y1="130.6" x2="165.1" y2="130.6" stroke="#0000f8" stroke-width="1.7"/>
<path d="M161.5,128.5 l2.7,2.1 l-2.7,2.1 l-2.7,-2.1 z" fill="#0000f8"/>
<text x="166.8" y="133.8" font-size="9" font-weight="bold" fill="#0000f8">750<tspan font-size="5.5" dy="-3.2">o</tspan><tspan dy="3.2">C</tspan></text>
<line x1="194.6" y1="130.6" x2="201.8" y2="130.6" stroke="#000" stroke-width="1.7"/>
<path d="M198.2,128.5 l2.7,2.1 l-2.7,2.1 l-2.7,-2.1 z" fill="#000"/>
<text x="203.5" y="133.8" font-size="9" font-weight="bold" fill="#000">650<tspan font-size="5.5" dy="-3.2">o</tspan><tspan dy="3.2">C</tspan></text>
<line x1="65.6" y1="24.3" x2="65.6" y2="28" stroke="#00ee00" stroke-width="1.4"/>
<circle cx="65.2" cy="24.3" r="2.0" fill="#00ee00"/>
<path d="M66.8,27.4C68.67,27.7 74.37,28.6 78,29.2C81.63,29.8 84.93,30.48 88.6,31C92.27,31.52 96.83,31.9 100,32.3C103.17,32.7 106.33,33.22 107.6,33.4" fill="none" stroke="#00ee00" stroke-width="4.0" stroke-linecap="round" stroke-linejoin="round"/>
<line x1="108.6" y1="26.4" x2="108.6" y2="34" stroke="#00ee00" stroke-width="1.3"/>
<circle cx="108.6" cy="26.4" r="2.0" fill="#00ee00"/>
<path d="M109.5,33.9C112.92,34.35 123.33,35.77 130,36.6C136.67,37.43 146.25,38.52 149.5,38.9" fill="none" stroke="#00ee00" stroke-width="3.8" stroke-linecap="round" stroke-linejoin="round"/>
<line x1="150.7" y1="30" x2="150.7" y2="39" stroke="#00ee00" stroke-width="1.3"/>
<circle cx="150.7" cy="30" r="2.0" fill="#00ee00"/>
<line x1="65.9" y1="36.7" x2="65.9" y2="41" stroke="#0000f8" stroke-width="1.6"/>
<circle cx="65.7" cy="36.7" r="2.2" fill="#0000f8"/>
<path d="M66.8,41.9C69,41.97 76.37,42.07 80,42.3C83.63,42.53 85.27,42.85 88.6,43.3C91.93,43.75 96.87,44.48 100,45C103.13,45.52 106.17,46.17 107.4,46.4" fill="none" stroke="#0000f8" stroke-width="5.0" stroke-linecap="round" stroke-linejoin="round"/>
<line x1="108.6" y1="34.3" x2="108.6" y2="46.6" stroke="#0000f8" stroke-width="1.4"/>
<circle cx="108.6" cy="34.3" r="2.1" fill="#0000f8"/>
<path d="M109.5,45.2C112.92,45.67 123.33,47.2 130,48C136.67,48.8 146.25,49.67 149.5,50" fill="none" stroke="#0000f8" stroke-width="3.0" stroke-linecap="round" stroke-linejoin="round"/>
<path d="M109.5,45.6C112.92,46.27 123.33,48.37 130,49.6C136.67,50.83 146.25,52.43 149.5,53" fill="none" stroke="#0000f8" stroke-width="3.0" stroke-linecap="round" stroke-linejoin="round"/>
<line x1="150.7" y1="36.4" x2="150.7" y2="52" stroke="#0000f8" stroke-width="1.4"/>
<circle cx="150.7" cy="36.4" r="2.1" fill="#0000f8"/>
<line x1="65.9" y1="47.1" x2="65.9" y2="59" stroke="#f80000" stroke-width="1.6"/>
<circle cx="65.2" cy="47.1" r="2.0" fill="#f80000"/>
<path d="M67.6,59.3C69.33,59.58 74.5,60.48 78,61C81.5,61.52 84.93,62.05 88.6,62.4C92.27,62.75 96.87,62.92 100,63.1C103.13,63.28 106.17,63.43 107.4,63.5" fill="none" stroke="#f80000" stroke-width="3.6" stroke-linecap="round" stroke-linejoin="round"/>
<path d="M109.5,63.6C112.92,63.92 123.33,64.9 130,65.5C136.67,66.1 146.25,66.92 149.5,67.2" fill="none" stroke="#f80000" stroke-width="3.2" stroke-linecap="round" stroke-linejoin="round"/>
<circle cx="150.7" cy="57.9" r="1.8" fill="#f80000"/>
<line x1="66.1" y1="50.5" x2="66.1" y2="62.5" stroke="#000" stroke-width="1.8"/>
<circle cx="65.7" cy="50.5" r="2.0" fill="#000"/>
<circle cx="65.7" cy="52.6" r="1.8" fill="#000"/>
<path d="M67.1,62.9C68.92,63.12 74.42,63.85 78,64.2C81.58,64.55 84.93,64.78 88.6,65C92.27,65.22 96.87,65.37 100,65.5C103.13,65.63 106.17,65.75 107.4,65.8" fill="none" stroke="#000" stroke-width="4.0" stroke-linecap="round" stroke-linejoin="round"/>
<line x1="108.6" y1="53.6" x2="108.6" y2="66" stroke="#000" stroke-width="1.5"/>
<circle cx="108.6" cy="53.6" r="2.0" fill="#000"/>
<path d="M109.5,66.1C112.92,66.35 123.33,67.13 130,67.6C136.67,68.07 146.25,68.68 149.5,68.9" fill="none" stroke="#000" stroke-width="3.8" stroke-linecap="round" stroke-linejoin="round"/>
<line x1="150.7" y1="55" x2="150.7" y2="69" stroke="#000" stroke-width="1.5"/>
<circle cx="150.7" cy="55" r="2.0" fill="#000"/>
<circle cx="85.5" cy="66.8" r="1.4" fill="#000"/>
<circle cx="98" cy="67" r="1.3" fill="#000"/>
<circle cx="120" cy="68.5" r="1.2" fill="#000"/>
<path d="M161.4,27.4C162.83,27.63 166.07,28.13 170,28.8C173.93,29.47 179.62,30.53 185,31.4C190.38,32.27 199.42,33.57 202.3,34" fill="none" stroke="#00ee00" stroke-width="3.4" stroke-linecap="round" stroke-linejoin="round"/>
<path d="M204.3,35.4C207.75,35.92 218.33,37.55 225,38.5C231.67,39.45 241.08,40.67 244.3,41.1" fill="none" stroke="#00ee00" stroke-width="3.4" stroke-linecap="round" stroke-linejoin="round"/>
<line x1="160.4" y1="20.4" x2="160.4" y2="27" stroke="#00ee00" stroke-width="1.3"/>
<circle cx="159.8" cy="20.4" r="1.9" fill="#00ee00"/>
<path d="M161.5,42.2C168.33,42.67 195.67,44.53 202.5,45" fill="none" stroke="#f80000" stroke-width="2.8" stroke-linecap="round" stroke-linejoin="round"/>
<path d="M161.5,44.6C168.33,45.1 195.67,47.1 202.5,47.6" fill="none" stroke="#f80000" stroke-width="2.8" stroke-linecap="round" stroke-linejoin="round"/>
<path d="M204.3,44.6C210.97,45.08 237.63,47.02 244.3,47.5" fill="none" stroke="#f80000" stroke-width="2.8" stroke-linecap="round" stroke-linejoin="round"/>
<path d="M204.3,47.6C210.97,48.1 237.63,50.1 244.3,50.6" fill="none" stroke="#f80000" stroke-width="2.8" stroke-linecap="round" stroke-linejoin="round"/>
<circle cx="160.1" cy="35.4" r="1.9" fill="#f80000"/>
<path d="M161.5,48.1C165.32,48.45 177.57,49.42 184.4,50.2C191.23,50.98 199.48,52.37 202.5,52.8" fill="none" stroke="#000" stroke-width="3.6" stroke-linecap="round" stroke-linejoin="round"/>
<path d="M204.3,51.9C207.75,52.33 218.33,53.67 225,54.5C231.67,55.33 241.08,56.5 244.3,56.9" fill="none" stroke="#000" stroke-width="3.6" stroke-linecap="round" stroke-linejoin="round"/>
<line x1="160.6" y1="35.4" x2="160.6" y2="48" stroke="#000" stroke-width="1.2"/>
<circle cx="160.1" cy="40.6" r="1.9" fill="#000"/>
<path d="M160.8,24.6C164.73,24.73 177.45,25 184.4,25.4C191.35,25.8 199.48,26.73 202.5,27" fill="none" stroke="#0000f8" stroke-width="4.0" stroke-linecap="round" stroke-linejoin="round"/>
<path d="M204,26.1C207.5,26.4 218.28,27.3 225,27.9C231.72,28.5 241.08,29.4 244.3,29.7" fill="none" stroke="#0000f8" stroke-width="4.0" stroke-linecap="round" stroke-linejoin="round"/>
<circle cx="160" cy="22.8" r="2.1" fill="#0000f8"/>
<line x1="202.9" y1="21.1" x2="202.9" y2="56" stroke="#000" stroke-width="1.2"/>
<circle cx="202.9" cy="31.9" r="1.6" fill="#00ee00"/>
<circle cx="202.9" cy="35.4" r="1.8" fill="#f80000"/>
<circle cx="202.9" cy="41.1" r="1.8" fill="#000"/>
<circle cx="202.9" cy="21.4" r="2.1" fill="#0000f8"/>
<line x1="245.7" y1="23.3" x2="245.7" y2="57" stroke="#000" stroke-width="1.2"/>
<circle cx="245.7" cy="32" r="1.6" fill="#00ee00"/>
<circle cx="245.7" cy="36.1" r="1.8" fill="#f80000"/>
<circle cx="245.7" cy="43.3" r="1.8" fill="#000"/>
<circle cx="245.7" cy="23.3" r="2.1" fill="#0000f8"/>
<path d="M255.2,19.5C255.4,20.33 256,23.13 256.4,24.5C256.8,25.87 256.45,26.22 257.6,27.7C258.75,29.18 261.17,31.73 263.3,33.4C265.43,35.07 268.02,36.5 270.4,37.7C272.78,38.9 275.22,39.83 277.6,40.6C279.98,41.37 281.62,41.73 284.7,42.3C287.78,42.87 294.2,43.72 296.1,44" fill="none" stroke="#00ee00" stroke-width="3.2" stroke-linecap="round" stroke-linejoin="round"/>
<path d="M298.6,44.3C302.17,45.05 313.38,47.42 320,48.8C326.62,50.18 335.25,51.97 338.3,52.6" fill="none" stroke="#00ee00" stroke-width="3.0" stroke-linecap="round" stroke-linejoin="round"/>
<circle cx="254.4" cy="21" r="1.7" fill="#00ee00"/>
<path d="M256.1,43.4C259.25,44.02 268.33,45.82 275,47.1C281.67,48.38 292.58,50.43 296.1,51.1" fill="none" stroke="#000" stroke-width="3.0" stroke-linecap="round" stroke-linejoin="round"/>
<path d="M256.1,52C259.25,52.63 268.33,54.53 275,55.8C281.67,57.07 292.58,58.97 296.1,59.6" fill="none" stroke="#000" stroke-width="3.0" stroke-linecap="round" stroke-linejoin="round"/>
<path d="M298.5,46.2C302.08,46.97 313.37,49.38 320,50.8C326.63,52.22 335.25,54.05 338.3,54.7" fill="none" stroke="#000" stroke-width="3.0" stroke-linecap="round" stroke-linejoin="round"/>
<path d="M298.5,54.1C302.08,54.62 313.37,56.27 320,57.2C326.63,58.13 335.25,59.28 338.3,59.7" fill="none" stroke="#000" stroke-width="3.0" stroke-linecap="round" stroke-linejoin="round"/>
<line x1="255.2" y1="33" x2="255.2" y2="52" stroke="#000" stroke-width="1.2"/>
<circle cx="254.8" cy="34.2" r="1.7" fill="#000"/>
<circle cx="255.2" cy="42.4" r="1.6" fill="#000"/>
<line x1="297.6" y1="31.1" x2="297.6" y2="59.7" stroke="#000" stroke-width="1.3"/>
<line x1="339.7" y1="23.3" x2="339.7" y2="60" stroke="#000" stroke-width="1.3"/>
<path d="M255.4,16.4C255.83,16.77 256.68,17.83 258,18.6C259.32,19.37 261.63,20.37 263.3,21C264.97,21.63 266.38,21.97 268,22.4C269.62,22.83 272.17,23.4 273,23.6" fill="none" stroke="#0000f8" stroke-width="3.4" stroke-linecap="round" stroke-linejoin="round"/>
<path d="M256.8,27C257.67,26.72 259.8,25.6 262,25.3C264.2,25 266.5,25.15 270,25.2C273.5,25.25 278.65,25.38 283,25.6C287.35,25.82 293.92,26.35 296.1,26.5" fill="none" stroke="#f80000" stroke-width="7.0" stroke-linecap="round" stroke-linejoin="round"/>
<path d="M298.6,27C302.17,27.38 313.38,28.5 320,29.3C326.62,30.1 335.25,31.38 338.3,31.8" fill="none" stroke="#f80000" stroke-width="7.5" stroke-linecap="round" stroke-linejoin="round"/>
<path d="M272,26.4C274.17,26.5 281,26.8 285,27C289,27.2 294.17,27.5 296,27.6" fill="none" stroke="#2020c0" stroke-width="1.1" stroke-dasharray="2 2.2"/>
<path d="M299,28.4C302.5,28.7 313.5,29.53 320,30.2C326.5,30.87 335,32.03 338,32.4" fill="none" stroke="#2020c0" stroke-width="1.1" stroke-dasharray="2 2.2"/>
<circle cx="254.7" cy="27.6" r="2.8" fill="#f80000"/>
<circle cx="254.7" cy="15.7" r="2.1" fill="#0000f8"/>
<circle cx="297.6" cy="20.6" r="2.2" fill="#f80000"/>
<circle cx="297.6" cy="24" r="1.6" fill="#0000f8"/>
<circle cx="297.6" cy="31.9" r="1.8" fill="#000"/>
<circle cx="297.6" cy="36.9" r="1.6" fill="#00ee00"/>
<circle cx="339.7" cy="23.3" r="2.2" fill="#f80000"/>
<circle cx="339.7" cy="27" r="1.6" fill="#0000f8"/>
<circle cx="339.7" cy="35.4" r="1.8" fill="#000"/>
<circle cx="339.7" cy="43.3" r="1.8" fill="#000"/>
<path d="M67.9,94.3C70.75,94.8 78.7,96.18 85,97.3C91.3,98.42 102.25,100.38 105.7,101" fill="none" stroke="#00ee00" stroke-width="2.6" stroke-linecap="round" stroke-linejoin="round"/>
<path d="M110.7,101.8C113.92,102.27 123.57,103.68 130,104.6C136.43,105.52 146.08,106.85 149.3,107.3" fill="none" stroke="#00ee00" stroke-width="2.6" stroke-linecap="round" stroke-linejoin="round"/>
<path d="M67.6,97.2C70.5,97.63 78.65,98.8 85,99.8C91.35,100.8 102.25,102.63 105.7,103.2" fill="none" stroke="#0000f8" stroke-width="3.0" stroke-linecap="round" stroke-linejoin="round"/>
<path d="M67.6,99.8C70.5,100.43 78.65,102.3 85,103.6C91.35,104.9 102.25,106.93 105.7,107.6" fill="none" stroke="#0000f8" stroke-width="3.0" stroke-linecap="round" stroke-linejoin="round"/>
<path d="M110.7,102.8C113.92,103.3 123.57,104.8 130,105.8C136.43,106.8 146.08,108.3 149.3,108.8" fill="none" stroke="#0000f8" stroke-width="3.0" stroke-linecap="round" stroke-linejoin="round"/>
<path d="M110.7,106C113.92,106.75 123.57,109.12 130,110.5C136.43,111.88 146.08,113.67 149.3,114.3" fill="none" stroke="#0000f8" stroke-width="3.0" stroke-linecap="round" stroke-linejoin="round"/>
<circle cx="65.4" cy="104.1" r="1.6" fill="#00ee00"/>
<path d="M68.6,115.8C69.55,116.22 70.97,117.33 74.3,118.3C77.63,119.27 83.37,120.55 88.6,121.6C93.83,122.65 102.85,124.1 105.7,124.6" fill="none" stroke="#f80000" stroke-width="3.4" stroke-linecap="round" stroke-linejoin="round"/>
<path d="M110.7,125C113.92,125.42 123.57,126.75 130,127.5C136.43,128.25 146.08,129.17 149.3,129.5" fill="none" stroke="#f80000" stroke-width="3.4" stroke-linecap="round" stroke-linejoin="round"/>
<path d="M67.6,114C68.72,114.25 70.8,114.77 74.3,115.5C77.8,116.23 83.37,117.57 88.6,118.4C93.83,119.23 102.85,120.15 105.7,120.5" fill="none" stroke="#000" stroke-width="4.2" stroke-linecap="round" stroke-linejoin="round"/>
<path d="M110.7,120.5C113.92,120.97 123.57,122.47 130,123.3C136.43,124.13 146.08,125.13 149.3,125.5" fill="none" stroke="#000" stroke-width="4.2" stroke-linecap="round" stroke-linejoin="round"/>
<line x1="66.4" y1="91.4" x2="66.4" y2="114.3" stroke="#500" stroke-width="1.8"/>
<circle cx="66" cy="89.9" r="2.1" fill="#0000f8"/>
<circle cx="65.7" cy="92" r="2.0" fill="#000"/>
<line x1="108.1" y1="88.4" x2="108.1" y2="126" stroke="#400" stroke-width="1.8"/>
<circle cx="108.1" cy="88.4" r="2.2" fill="#0000f8"/>
<circle cx="108.1" cy="94.9" r="2.0" fill="#000"/>
<line x1="150.7" y1="91.3" x2="150.7" y2="129" stroke="#400" stroke-width="1.8"/>
<circle cx="150.7" cy="91.3" r="2.2" fill="#0000f8"/>
<circle cx="150.7" cy="97" r="2.0" fill="#000"/>
<circle cx="152.1" cy="107.7" r="1.5" fill="#f80000"/>
<path d="M163.1,91.2C166.75,91.37 178.43,91.85 185,92.2C191.57,92.55 199.58,93.12 202.5,93.3" fill="none" stroke="#0000f8" stroke-width="4.6" stroke-linecap="round" stroke-linejoin="round"/>
<path d="M205.2,93.2C208.5,93.5 218.43,94.4 225,95C231.57,95.6 241.33,96.5 244.6,96.8" fill="none" stroke="#0000f8" stroke-width="4.8" stroke-linecap="round" stroke-linejoin="round"/>
<path d="M163.1,103.9C166.75,104.33 178.43,105.65 185,106.5C191.57,107.35 199.58,108.58 202.5,109" fill="none" stroke="#f80000" stroke-width="3.4" stroke-linecap="round" stroke-linejoin="round"/>
<path d="M205.2,109.6C208.5,109.92 218.43,110.9 225,111.5C231.57,112.1 241.33,112.92 244.6,113.2" fill="none" stroke="#00ee00" stroke-width="2.6" stroke-linecap="round" stroke-linejoin="round"/>
<path d="M205.2,102.6C208.5,102.97 218.43,104.07 225,104.8C231.57,105.53 241.33,106.63 244.6,107" fill="none" stroke="#f80000" stroke-width="3.2" stroke-linecap="round" stroke-linejoin="round"/>
<path d="M161.8,98.4C164.83,98.93 173.22,100.33 180,101.6C186.78,102.87 198.75,105.27 202.5,106" fill="none" stroke="#000" stroke-width="4.4" stroke-linecap="round" stroke-linejoin="round"/>
<path d="M205.2,105.6C208.5,105.97 218.43,107.07 225,107.8C231.57,108.53 241.33,109.63 244.6,110" fill="none" stroke="#000" stroke-width="4.4" stroke-linecap="round" stroke-linejoin="round"/>
<line x1="160.7" y1="86.4" x2="160.7" y2="107" stroke="#000" stroke-width="1.4"/>
<circle cx="160.7" cy="86.4" r="2.0" fill="#000"/>
<circle cx="160.6" cy="106.4" r="1.6" fill="#00ee00"/>
<circle cx="160.5" cy="91" r="1.6" fill="#0000f8"/>
<line x1="202.9" y1="86.4" x2="202.9" y2="108" stroke="#000" stroke-width="1.4"/>
<circle cx="202.9" cy="86.4" r="2.0" fill="#000"/>
<circle cx="202.9" cy="89.3" r="1.5" fill="#f80000"/>
<circle cx="202.9" cy="98.6" r="1.5" fill="#00ee00"/>
<line x1="245.7" y1="89.3" x2="245.7" y2="113" stroke="#000" stroke-width="1.4"/>
<circle cx="245.7" cy="89.3" r="2.0" fill="#0000f8"/>
<circle cx="245.7" cy="94.3" r="1.5" fill="#f80000"/>
<circle cx="245.7" cy="104.3" r="1.6" fill="#00ee00"/>
<path d="M256.1,92.6C256.82,91.93 258.73,89.57 260.4,88.6C262.07,87.63 263.23,87.17 266.1,86.8C268.97,86.43 272.6,86.13 277.6,86.4C282.6,86.67 293.02,88.07 296.1,88.4" fill="none" stroke="#f80000" stroke-width="3.4" stroke-linecap="round" stroke-linejoin="round"/>
<path d="M256.9,96.3C257.48,95.75 258.15,93.92 260.4,93C262.65,92.08 266.35,91.1 270.4,90.8C274.45,90.5 280.42,90.67 284.7,91.2C288.98,91.73 294.2,93.53 296.1,94" fill="none" stroke="#f80000" stroke-width="3.4" stroke-linecap="round" stroke-linejoin="round"/>
<path d="M299.2,88.5C302.67,88.8 313.43,89.62 320,90.3C326.57,90.98 335.5,92.22 338.6,92.6" fill="none" stroke="#f80000" stroke-width="3.4" stroke-linecap="round" stroke-linejoin="round"/>
<path d="M299.2,94.2C302.67,94.5 313.43,95.32 320,96C326.57,96.68 335.5,97.92 338.6,98.3" fill="none" stroke="#f80000" stroke-width="3.4" stroke-linecap="round" stroke-linejoin="round"/>
<path d="M256.9,96.8C257.97,97.1 259.85,97.83 263.3,98.6C266.75,99.37 272.13,100.4 277.6,101.4C283.07,102.4 293.02,104.07 296.1,104.6" fill="none" stroke="#0000f8" stroke-width="3.6" stroke-linecap="round" stroke-linejoin="round"/>
<path d="M299.2,105.3C302.67,105.62 313.43,106.52 320,107.2C326.57,107.88 335.5,109.03 338.6,109.4" fill="none" stroke="#0000f8" stroke-width="3.6" stroke-linecap="round" stroke-linejoin="round"/>
<path d="M255.4,107.3C256.72,107.68 259.6,108.5 263.3,109.6C267,110.7 272.13,112.23 277.6,113.9C283.07,115.57 293.02,118.65 296.1,119.6" fill="none" stroke="#00ee00" stroke-width="3.0" stroke-linecap="round" stroke-linejoin="round"/>
<path d="M299.2,122.8C302.67,123.17 313.43,124.27 320,125C326.57,125.73 335.5,126.83 338.6,127.2" fill="none" stroke="#00ee00" stroke-width="3.0" stroke-linecap="round" stroke-linejoin="round"/>
<path d="M256.1,103.4C258.48,104.03 263.73,105.63 270.4,107.2C277.07,108.77 291.82,111.87 296.1,112.8" fill="none" stroke="#000" stroke-width="3.2" stroke-linecap="round" stroke-linejoin="round"/>
<path d="M256.1,106.7C258.48,107.42 263.73,109.38 270.4,111C277.07,112.62 291.82,115.5 296.1,116.4" fill="none" stroke="#000" stroke-width="3.2" stroke-linecap="round" stroke-linejoin="round"/>
<path d="M299.2,108.6C302.67,109.58 313.43,112.67 320,114.5C326.57,116.33 335.5,118.75 338.6,119.6" fill="none" stroke="#000" stroke-width="4.6" stroke-linecap="round" stroke-linejoin="round"/>
<line x1="255.2" y1="88.7" x2="255.2" y2="107" stroke="#000" stroke-width="1.5"/>
<circle cx="254.7" cy="88.9" r="2.1" fill="#000"/>
<line x1="255" y1="97.4" x2="255" y2="106.7" stroke="#00ee00" stroke-width="1.4"/>
<line x1="297.1" y1="81.7" x2="297.1" y2="123" stroke="#000" stroke-width="1.5"/>
<circle cx="297.1" cy="81.7" r="2.2" fill="#f80000"/>
<circle cx="297.1" cy="86.7" r="2.0" fill="#000"/>
<circle cx="296.4" cy="97.4" r="1.6" fill="#0000f8"/>
<line x1="297.6" y1="112" x2="297.6" y2="123" stroke="#00ee00" stroke-width="1.2"/>
<line x1="340" y1="84.6" x2="340" y2="127.6" stroke="#000" stroke-width="1.5"/>
<circle cx="340" cy="84.6" r="2.2" fill="#f80000"/>
<circle cx="340" cy="90.3" r="2.0" fill="#000"/>
<circle cx="340.3" cy="100.5" r="1.6" fill="#0000f8"/>
<circle cx="340" cy="118.5" r="1.9" fill="#000"/>
<circle cx="340.2" cy="118" r="1.2" fill="#00ee00"/>
<rect x="61" y="174" width="94.2" height="94.45" fill="none" stroke="#262626" stroke-width="1.25"/>
<line x1="76.7" y1="174" x2="76.7" y2="175.8" stroke="#262626" stroke-width="0.8"/>
<line x1="76.7" y1="268.45" x2="76.7" y2="266.65" stroke="#262626" stroke-width="0.8"/>
<line x1="92.4" y1="174" x2="92.4" y2="175.8" stroke="#262626" stroke-width="0.8"/>
<line x1="92.4" y1="268.45" x2="92.4" y2="266.65" stroke="#262626" stroke-width="0.8"/>
<line x1="108.1" y1="174" x2="108.1" y2="175.8" stroke="#262626" stroke-width="0.8"/>
<line x1="108.1" y1="268.45" x2="108.1" y2="266.65" stroke="#262626" stroke-width="0.8"/>
<line x1="123.8" y1="174" x2="123.8" y2="175.8" stroke="#262626" stroke-width="0.8"/>
<line x1="123.8" y1="268.45" x2="123.8" y2="266.65" stroke="#262626" stroke-width="0.8"/>
<line x1="139.5" y1="174" x2="139.5" y2="175.8" stroke="#262626" stroke-width="0.8"/>
<line x1="139.5" y1="268.45" x2="139.5" y2="266.65" stroke="#262626" stroke-width="0.8"/>
<line x1="61" y1="259" x2="62.8" y2="259" stroke="#262626" stroke-width="0.8"/>
<line x1="155.2" y1="259" x2="153.4" y2="259" stroke="#262626" stroke-width="0.8"/>
<line x1="61" y1="249.56" x2="62.2" y2="249.56" stroke="#262626" stroke-width="0.8"/>
<line x1="155.2" y1="249.56" x2="154" y2="249.56" stroke="#262626" stroke-width="0.8"/>
<line x1="61" y1="240.11" x2="62.8" y2="240.11" stroke="#262626" stroke-width="0.8"/>
<line x1="155.2" y1="240.11" x2="153.4" y2="240.11" stroke="#262626" stroke-width="0.8"/>
<line x1="61" y1="230.67" x2="62.2" y2="230.67" stroke="#262626" stroke-width="0.8"/>
<line x1="155.2" y1="230.67" x2="154" y2="230.67" stroke="#262626" stroke-width="0.8"/>
<line x1="61" y1="221.22" x2="62.8" y2="221.22" stroke="#262626" stroke-width="0.8"/>
<line x1="155.2" y1="221.22" x2="153.4" y2="221.22" stroke="#262626" stroke-width="0.8"/>
<line x1="61" y1="211.78" x2="62.2" y2="211.78" stroke="#262626" stroke-width="0.8"/>
<line x1="155.2" y1="211.78" x2="154" y2="211.78" stroke="#262626" stroke-width="0.8"/>
<line x1="61" y1="202.34" x2="62.8" y2="202.34" stroke="#262626" stroke-width="0.8"/>
<line x1="155.2" y1="202.34" x2="153.4" y2="202.34" stroke="#262626" stroke-width="0.8"/>
<line x1="61" y1="192.89" x2="62.2" y2="192.89" stroke="#262626" stroke-width="0.8"/>
<line x1="155.2" y1="192.89" x2="154" y2="192.89" stroke="#262626" stroke-width="0.8"/>
<line x1="61" y1="183.44" x2="62.8" y2="183.44" stroke="#262626" stroke-width="0.8"/>
<line x1="155.2" y1="183.44" x2="153.4" y2="183.44" stroke="#262626" stroke-width="0.8"/>
<rect x="61" y="268.45" width="94.2" height="94.15" fill="none" stroke="#262626" stroke-width="1.25"/>
<line x1="76.7" y1="268.45" x2="76.7" y2="270.25" stroke="#262626" stroke-width="0.8"/>
<line x1="76.7" y1="362.6" x2="76.7" y2="360.8" stroke="#262626" stroke-width="0.8"/>
<line x1="92.4" y1="268.45" x2="92.4" y2="270.25" stroke="#262626" stroke-width="0.8"/>
<line x1="92.4" y1="362.6" x2="92.4" y2="360.8" stroke="#262626" stroke-width="0.8"/>
<line x1="108.1" y1="268.45" x2="108.1" y2="270.25" stroke="#262626" stroke-width="0.8"/>
<line x1="108.1" y1="362.6" x2="108.1" y2="360.8" stroke="#262626" stroke-width="0.8"/>
<line x1="123.8" y1="268.45" x2="123.8" y2="270.25" stroke="#262626" stroke-width="0.8"/>
<line x1="123.8" y1="362.6" x2="123.8" y2="360.8" stroke="#262626" stroke-width="0.8"/>
<line x1="139.5" y1="268.45" x2="139.5" y2="270.25" stroke="#262626" stroke-width="0.8"/>
<line x1="139.5" y1="362.6" x2="139.5" y2="360.8" stroke="#262626" stroke-width="0.8"/>
<line x1="61" y1="353.19" x2="62.8" y2="353.19" stroke="#262626" stroke-width="0.8"/>
<line x1="155.2" y1="353.19" x2="153.4" y2="353.19" stroke="#262626" stroke-width="0.8"/>
<line x1="61" y1="343.77" x2="62.2" y2="343.77" stroke="#262626" stroke-width="0.8"/>
<line x1="155.2" y1="343.77" x2="154" y2="343.77" stroke="#262626" stroke-width="0.8"/>
<line x1="61" y1="334.35" x2="62.8" y2="334.35" stroke="#262626" stroke-width="0.8"/>
<line x1="155.2" y1="334.35" x2="153.4" y2="334.35" stroke="#262626" stroke-width="0.8"/>
<line x1="61" y1="324.94" x2="62.2" y2="324.94" stroke="#262626" stroke-width="0.8"/>
<line x1="155.2" y1="324.94" x2="154" y2="324.94" stroke="#262626" stroke-width="0.8"/>
<line x1="61" y1="315.52" x2="62.8" y2="315.52" stroke="#262626" stroke-width="0.8"/>
<line x1="155.2" y1="315.52" x2="153.4" y2="315.52" stroke="#262626" stroke-width="0.8"/>
<line x1="61" y1="306.11" x2="62.2" y2="306.11" stroke="#262626" stroke-width="0.8"/>
<line x1="155.2" y1="306.11" x2="154" y2="306.11" stroke="#262626" stroke-width="0.8"/>
<line x1="61" y1="296.69" x2="62.8" y2="296.69" stroke="#262626" stroke-width="0.8"/>
<line x1="155.2" y1="296.69" x2="153.4" y2="296.69" stroke="#262626" stroke-width="0.8"/>
<line x1="61" y1="287.28" x2="62.2" y2="287.28" stroke="#262626" stroke-width="0.8"/>
<line x1="155.2" y1="287.28" x2="154" y2="287.28" stroke="#262626" stroke-width="0.8"/>
<line x1="61" y1="277.86" x2="62.8" y2="277.86" stroke="#262626" stroke-width="0.8"/>
<line x1="155.2" y1="277.86" x2="153.4" y2="277.86" stroke="#262626" stroke-width="0.8"/>
<rect x="61" y="362.6" width="94.2" height="94.7" fill="none" stroke="#262626" stroke-width="1.25"/>
<line x1="76.7" y1="362.6" x2="76.7" y2="364.4" stroke="#262626" stroke-width="0.8"/>
<line x1="76.7" y1="457.3" x2="76.7" y2="455.5" stroke="#262626" stroke-width="0.8"/>
<line x1="92.4" y1="362.6" x2="92.4" y2="364.4" stroke="#262626" stroke-width="0.8"/>
<line x1="92.4" y1="457.3" x2="92.4" y2="455.5" stroke="#262626" stroke-width="0.8"/>
<line x1="108.1" y1="362.6" x2="108.1" y2="364.4" stroke="#262626" stroke-width="0.8"/>
<line x1="108.1" y1="457.3" x2="108.1" y2="455.5" stroke="#262626" stroke-width="0.8"/>
<line x1="123.8" y1="362.6" x2="123.8" y2="364.4" stroke="#262626" stroke-width="0.8"/>
<line x1="123.8" y1="457.3" x2="123.8" y2="455.5" stroke="#262626" stroke-width="0.8"/>
<line x1="139.5" y1="362.6" x2="139.5" y2="364.4" stroke="#262626" stroke-width="0.8"/>
<line x1="139.5" y1="457.3" x2="139.5" y2="455.5" stroke="#262626" stroke-width="0.8"/>
<line x1="61" y1="447.83" x2="62.8" y2="447.83" stroke="#262626" stroke-width="0.8"/>
<line x1="155.2" y1="447.83" x2="153.4" y2="447.83" stroke="#262626" stroke-width="0.8"/>
<line x1="61" y1="438.36" x2="62.2" y2="438.36" stroke="#262626" stroke-width="0.8"/>
<line x1="155.2" y1="438.36" x2="154" y2="438.36" stroke="#262626" stroke-width="0.8"/>
<line x1="61" y1="428.89" x2="62.8" y2="428.89" stroke="#262626" stroke-width="0.8"/>
<line x1="155.2" y1="428.89" x2="153.4" y2="428.89" stroke="#262626" stroke-width="0.8"/>
<line x1="61" y1="419.42" x2="62.2" y2="419.42" stroke="#262626" stroke-width="0.8"/>
<line x1="155.2" y1="419.42" x2="154" y2="419.42" stroke="#262626" stroke-width="0.8"/>
<line x1="61" y1="409.95" x2="62.8" y2="409.95" stroke="#262626" stroke-width="0.8"/>
<line x1="155.2" y1="409.95" x2="153.4" y2="409.95" stroke="#262626" stroke-width="0.8"/>
<line x1="61" y1="400.48" x2="62.2" y2="400.48" stroke="#262626" stroke-width="0.8"/>
<line x1="155.2" y1="400.48" x2="154" y2="400.48" stroke="#262626" stroke-width="0.8"/>
<line x1="61" y1="391.01" x2="62.8" y2="391.01" stroke="#262626" stroke-width="0.8"/>
<line x1="155.2" y1="391.01" x2="153.4" y2="391.01" stroke="#262626" stroke-width="0.8"/>
<line x1="61" y1="381.54" x2="62.2" y2="381.54" stroke="#262626" stroke-width="0.8"/>
<line x1="155.2" y1="381.54" x2="154" y2="381.54" stroke="#262626" stroke-width="0.8"/>
<line x1="61" y1="372.07" x2="62.8" y2="372.07" stroke="#262626" stroke-width="0.8"/>
<line x1="155.2" y1="372.07" x2="153.4" y2="372.07" stroke="#262626" stroke-width="0.8"/>
<rect x="61" y="457.3" width="94.2" height="94.1" fill="none" stroke="#262626" stroke-width="1.25"/>
<line x1="76.7" y1="457.3" x2="76.7" y2="459.1" stroke="#262626" stroke-width="0.8"/>
<line x1="76.7" y1="551.4" x2="76.7" y2="549.6" stroke="#262626" stroke-width="0.8"/>
<line x1="92.4" y1="457.3" x2="92.4" y2="459.1" stroke="#262626" stroke-width="0.8"/>
<line x1="92.4" y1="551.4" x2="92.4" y2="549.6" stroke="#262626" stroke-width="0.8"/>
<line x1="108.1" y1="457.3" x2="108.1" y2="459.1" stroke="#262626" stroke-width="0.8"/>
<line x1="108.1" y1="551.4" x2="108.1" y2="549.6" stroke="#262626" stroke-width="0.8"/>
<line x1="123.8" y1="457.3" x2="123.8" y2="459.1" stroke="#262626" stroke-width="0.8"/>
<line x1="123.8" y1="551.4" x2="123.8" y2="549.6" stroke="#262626" stroke-width="0.8"/>
<line x1="139.5" y1="457.3" x2="139.5" y2="459.1" stroke="#262626" stroke-width="0.8"/>
<line x1="139.5" y1="551.4" x2="139.5" y2="549.6" stroke="#262626" stroke-width="0.8"/>
<line x1="61" y1="541.99" x2="62.8" y2="541.99" stroke="#262626" stroke-width="0.8"/>
<line x1="155.2" y1="541.99" x2="153.4" y2="541.99" stroke="#262626" stroke-width="0.8"/>
<line x1="61" y1="532.58" x2="62.2" y2="532.58" stroke="#262626" stroke-width="0.8"/>
<line x1="155.2" y1="532.58" x2="154" y2="532.58" stroke="#262626" stroke-width="0.8"/>
<line x1="61" y1="523.17" x2="62.8" y2="523.17" stroke="#262626" stroke-width="0.8"/>
<line x1="155.2" y1="523.17" x2="153.4" y2="523.17" stroke="#262626" stroke-width="0.8"/>
<line x1="61" y1="513.76" x2="62.2" y2="513.76" stroke="#262626" stroke-width="0.8"/>
<line x1="155.2" y1="513.76" x2="154" y2="513.76" stroke="#262626" stroke-width="0.8"/>
<line x1="61" y1="504.35" x2="62.8" y2="504.35" stroke="#262626" stroke-width="0.8"/>
<line x1="155.2" y1="504.35" x2="153.4" y2="504.35" stroke="#262626" stroke-width="0.8"/>
<line x1="61" y1="494.94" x2="62.2" y2="494.94" stroke="#262626" stroke-width="0.8"/>
<line x1="155.2" y1="494.94" x2="154" y2="494.94" stroke="#262626" stroke-width="0.8"/>
<line x1="61" y1="485.53" x2="62.8" y2="485.53" stroke="#262626" stroke-width="0.8"/>
<line x1="155.2" y1="485.53" x2="153.4" y2="485.53" stroke="#262626" stroke-width="0.8"/>
<line x1="61" y1="476.12" x2="62.2" y2="476.12" stroke="#262626" stroke-width="0.8"/>
<line x1="155.2" y1="476.12" x2="154" y2="476.12" stroke="#262626" stroke-width="0.8"/>
<line x1="61" y1="466.71" x2="62.8" y2="466.71" stroke="#262626" stroke-width="0.8"/>
<line x1="155.2" y1="466.71" x2="153.4" y2="466.71" stroke="#262626" stroke-width="0.8"/>
<rect x="155.2" y="174" width="94.3" height="94.45" fill="none" stroke="#262626" stroke-width="1.25"/>
<line x1="170.92" y1="174" x2="170.92" y2="175.8" stroke="#262626" stroke-width="0.8"/>
<line x1="170.92" y1="268.45" x2="170.92" y2="266.65" stroke="#262626" stroke-width="0.8"/>
<line x1="186.63" y1="174" x2="186.63" y2="175.8" stroke="#262626" stroke-width="0.8"/>
<line x1="186.63" y1="268.45" x2="186.63" y2="266.65" stroke="#262626" stroke-width="0.8"/>
<line x1="202.35" y1="174" x2="202.35" y2="175.8" stroke="#262626" stroke-width="0.8"/>
<line x1="202.35" y1="268.45" x2="202.35" y2="266.65" stroke="#262626" stroke-width="0.8"/>
<line x1="218.07" y1="174" x2="218.07" y2="175.8" stroke="#262626" stroke-width="0.8"/>
<line x1="218.07" y1="268.45" x2="218.07" y2="266.65" stroke="#262626" stroke-width="0.8"/>
<line x1="233.78" y1="174" x2="233.78" y2="175.8" stroke="#262626" stroke-width="0.8"/>
<line x1="233.78" y1="268.45" x2="233.78" y2="266.65" stroke="#262626" stroke-width="0.8"/>
<line x1="155.2" y1="259" x2="157" y2="259" stroke="#262626" stroke-width="0.8"/>
<line x1="249.5" y1="259" x2="247.7" y2="259" stroke="#262626" stroke-width="0.8"/>
<line x1="155.2" y1="249.56" x2="156.4" y2="249.56" stroke="#262626" stroke-width="0.8"/>
<line x1="249.5" y1="249.56" x2="248.3" y2="249.56" stroke="#262626" stroke-width="0.8"/>
<line x1="155.2" y1="240.11" x2="157" y2="240.11" stroke="#262626" stroke-width="0.8"/>
<line x1="249.5" y1="240.11" x2="247.7" y2="240.11" stroke="#262626" stroke-width="0.8"/>
<line x1="155.2" y1="230.67" x2="156.4" y2="230.67" stroke="#262626" stroke-width="0.8"/>
<line x1="249.5" y1="230.67" x2="248.3" y2="230.67" stroke="#262626" stroke-width="0.8"/>
<line x1="155.2" y1="221.22" x2="157" y2="221.22" stroke="#262626" stroke-width="0.8"/>
<line x1="249.5" y1="221.22" x2="247.7" y2="221.22" stroke="#262626" stroke-width="0.8"/>
<line x1="155.2" y1="211.78" x2="156.4" y2="211.78" stroke="#262626" stroke-width="0.8"/>
<line x1="249.5" y1="211.78" x2="248.3" y2="211.78" stroke="#262626" stroke-width="0.8"/>
<line x1="155.2" y1="202.34" x2="157" y2="202.34" stroke="#262626" stroke-width="0.8"/>
<line x1="249.5" y1="202.34" x2="247.7" y2="202.34" stroke="#262626" stroke-width="0.8"/>
<line x1="155.2" y1="192.89" x2="156.4" y2="192.89" stroke="#262626" stroke-width="0.8"/>
<line x1="249.5" y1="192.89" x2="248.3" y2="192.89" stroke="#262626" stroke-width="0.8"/>
<line x1="155.2" y1="183.44" x2="157" y2="183.44" stroke="#262626" stroke-width="0.8"/>
<line x1="249.5" y1="183.44" x2="247.7" y2="183.44" stroke="#262626" stroke-width="0.8"/>
<rect x="155.2" y="268.45" width="94.3" height="94.15" fill="none" stroke="#262626" stroke-width="1.25"/>
<line x1="170.92" y1="268.45" x2="170.92" y2="270.25" stroke="#262626" stroke-width="0.8"/>
<line x1="170.92" y1="362.6" x2="170.92" y2="360.8" stroke="#262626" stroke-width="0.8"/>
<line x1="186.63" y1="268.45" x2="186.63" y2="270.25" stroke="#262626" stroke-width="0.8"/>
<line x1="186.63" y1="362.6" x2="186.63" y2="360.8" stroke="#262626" stroke-width="0.8"/>
<line x1="202.35" y1="268.45" x2="202.35" y2="270.25" stroke="#262626" stroke-width="0.8"/>
<line x1="202.35" y1="362.6" x2="202.35" y2="360.8" stroke="#262626" stroke-width="0.8"/>
<line x1="218.07" y1="268.45" x2="218.07" y2="270.25" stroke="#262626" stroke-width="0.8"/>
<line x1="218.07" y1="362.6" x2="218.07" y2="360.8" stroke="#262626" stroke-width="0.8"/>
<line x1="233.78" y1="268.45" x2="233.78" y2="270.25" stroke="#262626" stroke-width="0.8"/>
<line x1="233.78" y1="362.6" x2="233.78" y2="360.8" stroke="#262626" stroke-width="0.8"/>
<line x1="155.2" y1="353.19" x2="157" y2="353.19" stroke="#262626" stroke-width="0.8"/>
<line x1="249.5" y1="353.19" x2="247.7" y2="353.19" stroke="#262626" stroke-width="0.8"/>
<line x1="155.2" y1="343.77" x2="156.4" y2="343.77" stroke="#262626" stroke-width="0.8"/>
<line x1="249.5" y1="343.77" x2="248.3" y2="343.77" stroke="#262626" stroke-width="0.8"/>
<line x1="155.2" y1="334.35" x2="157" y2="334.35" stroke="#262626" stroke-width="0.8"/>
<line x1="249.5" y1="334.35" x2="247.7" y2="334.35" stroke="#262626" stroke-width="0.8"/>
<line x1="155.2" y1="324.94" x2="156.4" y2="324.94" stroke="#262626" stroke-width="0.8"/>
<line x1="249.5" y1="324.94" x2="248.3" y2="324.94" stroke="#262626" stroke-width="0.8"/>
<line x1="155.2" y1="315.52" x2="157" y2="315.52" stroke="#262626" stroke-width="0.8"/>
<line x1="249.5" y1="315.52" x2="247.7" y2="315.52" stroke="#262626" stroke-width="0.8"/>
<line x1="155.2" y1="306.11" x2="156.4" y2="306.11" stroke="#262626" stroke-width="0.8"/>
<line x1="249.5" y1="306.11" x2="248.3" y2="306.11" stroke="#262626" stroke-width="0.8"/>
<line x1="155.2" y1="296.69" x2="157" y2="296.69" stroke="#262626" stroke-width="0.8"/>
<line x1="249.5" y1="296.69" x2="247.7" y2="296.69" stroke="#262626" stroke-width="0.8"/>
<line x1="155.2" y1="287.28" x2="156.4" y2="287.28" stroke="#262626" stroke-width="0.8"/>
<line x1="249.5" y1="287.28" x2="248.3" y2="287.28" stroke="#262626" stroke-width="0.8"/>
<line x1="155.2" y1="277.86" x2="157" y2="277.86" stroke="#262626" stroke-width="0.8"/>
<line x1="249.5" y1="277.86" x2="247.7" y2="277.86" stroke="#262626" stroke-width="0.8"/>
<rect x="155.2" y="362.6" width="94.3" height="94.7" fill="none" stroke="#262626" stroke-width="1.25"/>
<line x1="170.92" y1="362.6" x2="170.92" y2="364.4" stroke="#262626" stroke-width="0.8"/>
<line x1="170.92" y1="457.3" x2="170.92" y2="455.5" stroke="#262626" stroke-width="0.8"/>
<line x1="186.63" y1="362.6" x2="186.63" y2="364.4" stroke="#262626" stroke-width="0.8"/>
<line x1="186.63" y1="457.3" x2="186.63" y2="455.5" stroke="#262626" stroke-width="0.8"/>
<line x1="202.35" y1="362.6" x2="202.35" y2="364.4" stroke="#262626" stroke-width="0.8"/>
<line x1="202.35" y1="457.3" x2="202.35" y2="455.5" stroke="#262626" stroke-width="0.8"/>
<line x1="218.07" y1="362.6" x2="218.07" y2="364.4" stroke="#262626" stroke-width="0.8"/>
<line x1="218.07" y1="457.3" x2="218.07" y2="455.5" stroke="#262626" stroke-width="0.8"/>
<line x1="233.78" y1="362.6" x2="233.78" y2="364.4" stroke="#262626" stroke-width="0.8"/>
<line x1="233.78" y1="457.3" x2="233.78" y2="455.5" stroke="#262626" stroke-width="0.8"/>
<line x1="155.2" y1="447.83" x2="157" y2="447.83" stroke="#262626" stroke-width="0.8"/>
<line x1="249.5" y1="447.83" x2="247.7" y2="447.83" stroke="#262626" stroke-width="0.8"/>
<line x1="155.2" y1="438.36" x2="156.4" y2="438.36" stroke="#262626" stroke-width="0.8"/>
<line x1="249.5" y1="438.36" x2="248.3" y2="438.36" stroke="#262626" stroke-width="0.8"/>
<line x1="155.2" y1="428.89" x2="157" y2="428.89" stroke="#262626" stroke-width="0.8"/>
<line x1="249.5" y1="428.89" x2="247.7" y2="428.89" stroke="#262626" stroke-width="0.8"/>
<line x1="155.2" y1="419.42" x2="156.4" y2="419.42" stroke="#262626" stroke-width="0.8"/>
<line x1="249.5" y1="419.42" x2="248.3" y2="419.42" stroke="#262626" stroke-width="0.8"/>
<line x1="155.2" y1="409.95" x2="157" y2="409.95" stroke="#262626" stroke-width="0.8"/>
<line x1="249.5" y1="409.95" x2="247.7" y2="409.95" stroke="#262626" stroke-width="0.8"/>
<line x1="155.2" y1="400.48" x2="156.4" y2="400.48" stroke="#262626" stroke-width="0.8"/>
<line x1="249.5" y1="400.48" x2="248.3" y2="400.48" stroke="#262626" stroke-width="0.8"/>
<line x1="155.2" y1="391.01" x2="157" y2="391.01" stroke="#262626" stroke-width="0.8"/>
<line x1="249.5" y1="391.01" x2="247.7" y2="391.01" stroke="#262626" stroke-width="0.8"/>
<line x1="155.2" y1="381.54" x2="156.4" y2="381.54" stroke="#262626" stroke-width="0.8"/>
<line x1="249.5" y1="381.54" x2="248.3" y2="381.54" stroke="#262626" stroke-width="0.8"/>
<line x1="155.2" y1="372.07" x2="157" y2="372.07" stroke="#262626" stroke-width="0.8"/>
<line x1="249.5" y1="372.07" x2="247.7" y2="372.07" stroke="#262626" stroke-width="0.8"/>
<rect x="155.2" y="457.3" width="94.3" height="94.1" fill="none" stroke="#262626" stroke-width="1.25"/>
<line x1="170.92" y1="457.3" x2="170.92" y2="459.1" stroke="#262626" stroke-width="0.8"/>
<line x1="170.92" y1="551.4" x2="170.92" y2="549.6" stroke="#262626" stroke-width="0.8"/>
<line x1="186.63" y1="457.3" x2="186.63" y2="459.1" stroke="#262626" stroke-width="0.8"/>
<line x1="186.63" y1="551.4" x2="186.63" y2="549.6" stroke="#262626" stroke-width="0.8"/>
<line x1="202.35" y1="457.3" x2="202.35" y2="459.1" stroke="#262626" stroke-width="0.8"/>
<line x1="202.35" y1="551.4" x2="202.35" y2="549.6" stroke="#262626" stroke-width="0.8"/>
<line x1="218.07" y1="457.3" x2="218.07" y2="459.1" stroke="#262626" stroke-width="0.8"/>
<line x1="218.07" y1="551.4" x2="218.07" y2="549.6" stroke="#262626" stroke-width="0.8"/>
<line x1="233.78" y1="457.3" x2="233.78" y2="459.1" stroke="#262626" stroke-width="0.8"/>
<line x1="233.78" y1="551.4" x2="233.78" y2="549.6" stroke="#262626" stroke-width="0.8"/>
<line x1="155.2" y1="541.99" x2="157" y2="541.99" stroke="#262626" stroke-width="0.8"/>
<line x1="249.5" y1="541.99" x2="247.7" y2="541.99" stroke="#262626" stroke-width="0.8"/>
<line x1="155.2" y1="532.58" x2="156.4" y2="532.58" stroke="#262626" stroke-width="0.8"/>
<line x1="249.5" y1="532.58" x2="248.3" y2="532.58" stroke="#262626" stroke-width="0.8"/>
<line x1="155.2" y1="523.17" x2="157" y2="523.17" stroke="#262626" stroke-width="0.8"/>
<line x1="249.5" y1="523.17" x2="247.7" y2="523.17" stroke="#262626" stroke-width="0.8"/>
<line x1="155.2" y1="513.76" x2="156.4" y2="513.76" stroke="#262626" stroke-width="0.8"/>
<line x1="249.5" y1="513.76" x2="248.3" y2="513.76" stroke="#262626" stroke-width="0.8"/>
<line x1="155.2" y1="504.35" x2="157" y2="504.35" stroke="#262626" stroke-width="0.8"/>
<line x1="249.5" y1="504.35" x2="247.7" y2="504.35" stroke="#262626" stroke-width="0.8"/>
<line x1="155.2" y1="494.94" x2="156.4" y2="494.94" stroke="#262626" stroke-width="0.8"/>
<line x1="249.5" y1="494.94" x2="248.3" y2="494.94" stroke="#262626" stroke-width="0.8"/>
<line x1="155.2" y1="485.53" x2="157" y2="485.53" stroke="#262626" stroke-width="0.8"/>
<line x1="249.5" y1="485.53" x2="247.7" y2="485.53" stroke="#262626" stroke-width="0.8"/>
<line x1="155.2" y1="476.12" x2="156.4" y2="476.12" stroke="#262626" stroke-width="0.8"/>
<line x1="249.5" y1="476.12" x2="248.3" y2="476.12" stroke="#262626" stroke-width="0.8"/>
<line x1="155.2" y1="466.71" x2="157" y2="466.71" stroke="#262626" stroke-width="0.8"/>
<line x1="249.5" y1="466.71" x2="247.7" y2="466.71" stroke="#262626" stroke-width="0.8"/>
<rect x="249.5" y="174" width="94.4" height="94.45" fill="none" stroke="#262626" stroke-width="1.25"/>
<line x1="265.23" y1="174" x2="265.23" y2="175.8" stroke="#262626" stroke-width="0.8"/>
<line x1="265.23" y1="268.45" x2="265.23" y2="266.65" stroke="#262626" stroke-width="0.8"/>
<line x1="280.97" y1="174" x2="280.97" y2="175.8" stroke="#262626" stroke-width="0.8"/>
<line x1="280.97" y1="268.45" x2="280.97" y2="266.65" stroke="#262626" stroke-width="0.8"/>
<line x1="296.7" y1="174" x2="296.7" y2="175.8" stroke="#262626" stroke-width="0.8"/>
<line x1="296.7" y1="268.45" x2="296.7" y2="266.65" stroke="#262626" stroke-width="0.8"/>
<line x1="312.43" y1="174" x2="312.43" y2="175.8" stroke="#262626" stroke-width="0.8"/>
<line x1="312.43" y1="268.45" x2="312.43" y2="266.65" stroke="#262626" stroke-width="0.8"/>
<line x1="328.17" y1="174" x2="328.17" y2="175.8" stroke="#262626" stroke-width="0.8"/>
<line x1="328.17" y1="268.45" x2="328.17" y2="266.65" stroke="#262626" stroke-width="0.8"/>
<line x1="249.5" y1="259" x2="251.3" y2="259" stroke="#262626" stroke-width="0.8"/>
<line x1="343.9" y1="259" x2="342.1" y2="259" stroke="#262626" stroke-width="0.8"/>
<line x1="249.5" y1="249.56" x2="250.7" y2="249.56" stroke="#262626" stroke-width="0.8"/>
<line x1="343.9" y1="249.56" x2="342.7" y2="249.56" stroke="#262626" stroke-width="0.8"/>
<line x1="249.5" y1="240.11" x2="251.3" y2="240.11" stroke="#262626" stroke-width="0.8"/>
<line x1="343.9" y1="240.11" x2="342.1" y2="240.11" stroke="#262626" stroke-width="0.8"/>
<line x1="249.5" y1="230.67" x2="250.7" y2="230.67" stroke="#262626" stroke-width="0.8"/>
<line x1="343.9" y1="230.67" x2="342.7" y2="230.67" stroke="#262626" stroke-width="0.8"/>
<line x1="249.5" y1="221.22" x2="251.3" y2="221.22" stroke="#262626" stroke-width="0.8"/>
<line x1="343.9" y1="221.22" x2="342.1" y2="221.22" stroke="#262626" stroke-width="0.8"/>
<line x1="249.5" y1="211.78" x2="250.7" y2="211.78" stroke="#262626" stroke-width="0.8"/>
<line x1="343.9" y1="211.78" x2="342.7" y2="211.78" stroke="#262626" stroke-width="0.8"/>
<line x1="249.5" y1="202.34" x2="251.3" y2="202.34" stroke="#262626" stroke-width="0.8"/>
<line x1="343.9" y1="202.34" x2="342.1" y2="202.34" stroke="#262626" stroke-width="0.8"/>
<line x1="249.5" y1="192.89" x2="250.7" y2="192.89" stroke="#262626" stroke-width="0.8"/>
<line x1="343.9" y1="192.89" x2="342.7" y2="192.89" stroke="#262626" stroke-width="0.8"/>
<line x1="249.5" y1="183.44" x2="251.3" y2="183.44" stroke="#262626" stroke-width="0.8"/>
<line x1="343.9" y1="183.44" x2="342.1" y2="183.44" stroke="#262626" stroke-width="0.8"/>
<rect x="249.5" y="268.45" width="94.4" height="94.15" fill="none" stroke="#262626" stroke-width="1.25"/>
<line x1="265.23" y1="268.45" x2="265.23" y2="270.25" stroke="#262626" stroke-width="0.8"/>
<line x1="265.23" y1="362.6" x2="265.23" y2="360.8" stroke="#262626" stroke-width="0.8"/>
<line x1="280.97" y1="268.45" x2="280.97" y2="270.25" stroke="#262626" stroke-width="0.8"/>
<line x1="280.97" y1="362.6" x2="280.97" y2="360.8" stroke="#262626" stroke-width="0.8"/>
<line x1="296.7" y1="268.45" x2="296.7" y2="270.25" stroke="#262626" stroke-width="0.8"/>
<line x1="296.7" y1="362.6" x2="296.7" y2="360.8" stroke="#262626" stroke-width="0.8"/>
<line x1="312.43" y1="268.45" x2="312.43" y2="270.25" stroke="#262626" stroke-width="0.8"/>
<line x1="312.43" y1="362.6" x2="312.43" y2="360.8" stroke="#262626" stroke-width="0.8"/>
<line x1="328.17" y1="268.45" x2="328.17" y2="270.25" stroke="#262626" stroke-width="0.8"/>
<line x1="328.17" y1="362.6" x2="328.17" y2="360.8" stroke="#262626" stroke-width="0.8"/>
<line x1="249.5" y1="353.19" x2="251.3" y2="353.19" stroke="#262626" stroke-width="0.8"/>
<line x1="343.9" y1="353.19" x2="342.1" y2="353.19" stroke="#262626" stroke-width="0.8"/>
<line x1="249.5" y1="343.77" x2="250.7" y2="343.77" stroke="#262626" stroke-width="0.8"/>
<line x1="343.9" y1="343.77" x2="342.7" y2="343.77" stroke="#262626" stroke-width="0.8"/>
<line x1="249.5" y1="334.35" x2="251.3" y2="334.35" stroke="#262626" stroke-width="0.8"/>
<line x1="343.9" y1="334.35" x2="342.1" y2="334.35" stroke="#262626" stroke-width="0.8"/>
<line x1="249.5" y1="324.94" x2="250.7" y2="324.94" stroke="#262626" stroke-width="0.8"/>
<line x1="343.9" y1="324.94" x2="342.7" y2="324.94" stroke="#262626" stroke-width="0.8"/>
<line x1="249.5" y1="315.52" x2="251.3" y2="315.52" stroke="#262626" stroke-width="0.8"/>
<line x1="343.9" y1="315.52" x2="342.1" y2="315.52" stroke="#262626" stroke-width="0.8"/>
<line x1="249.5" y1="306.11" x2="250.7" y2="306.11" stroke="#262626" stroke-width="0.8"/>
<line x1="343.9" y1="306.11" x2="342.7" y2="306.11" stroke="#262626" stroke-width="0.8"/>
<line x1="249.5" y1="296.69" x2="251.3" y2="296.69" stroke="#262626" stroke-width="0.8"/>
<line x1="343.9" y1="296.69" x2="342.1" y2="296.69" stroke="#262626" stroke-width="0.8"/>
<line x1="249.5" y1="287.28" x2="250.7" y2="287.28" stroke="#262626" stroke-width="0.8"/>
<line x1="343.9" y1="287.28" x2="342.7" y2="287.28" stroke="#262626" stroke-width="0.8"/>
<line x1="249.5" y1="277.86" x2="251.3" y2="277.86" stroke="#262626" stroke-width="0.8"/>
<line x1="343.9" y1="277.86" x2="342.1" y2="277.86" stroke="#262626" stroke-width="0.8"/>
<rect x="249.5" y="362.6" width="94.4" height="94.7" fill="none" stroke="#262626" stroke-width="1.25"/>
<line x1="265.23" y1="362.6" x2="265.23" y2="364.4" stroke="#262626" stroke-width="0.8"/>
<line x1="265.23" y1="457.3" x2="265.23" y2="455.5" stroke="#262626" stroke-width="0.8"/>
<line x1="280.97" y1="362.6" x2="280.97" y2="364.4" stroke="#262626" stroke-width="0.8"/>
<line x1="280.97" y1="457.3" x2="280.97" y2="455.5" stroke="#262626" stroke-width="0.8"/>
<line x1="296.7" y1="362.6" x2="296.7" y2="364.4" stroke="#262626" stroke-width="0.8"/>
<line x1="296.7" y1="457.3" x2="296.7" y2="455.5" stroke="#262626" stroke-width="0.8"/>
<line x1="312.43" y1="362.6" x2="312.43" y2="364.4" stroke="#262626" stroke-width="0.8"/>
<line x1="312.43" y1="457.3" x2="312.43" y2="455.5" stroke="#262626" stroke-width="0.8"/>
<line x1="328.17" y1="362.6" x2="328.17" y2="364.4" stroke="#262626" stroke-width="0.8"/>
<line x1="328.17" y1="457.3" x2="328.17" y2="455.5" stroke="#262626" stroke-width="0.8"/>
<line x1="249.5" y1="447.83" x2="251.3" y2="447.83" stroke="#262626" stroke-width="0.8"/>
<line x1="343.9" y1="447.83" x2="342.1" y2="447.83" stroke="#262626" stroke-width="0.8"/>
<line x1="249.5" y1="438.36" x2="250.7" y2="438.36" stroke="#262626" stroke-width="0.8"/>
<line x1="343.9" y1="438.36" x2="342.7" y2="438.36" stroke="#262626" stroke-width="0.8"/>
<line x1="249.5" y1="428.89" x2="251.3" y2="428.89" stroke="#262626" stroke-width="0.8"/>
<line x1="343.9" y1="428.89" x2="342.1" y2="428.89" stroke="#262626" stroke-width="0.8"/>
<line x1="249.5" y1="419.42" x2="250.7" y2="419.42" stroke="#262626" stroke-width="0.8"/>
<line x1="343.9" y1="419.42" x2="342.7" y2="419.42" stroke="#262626" stroke-width="0.8"/>
<line x1="249.5" y1="409.95" x2="251.3" y2="409.95" stroke="#262626" stroke-width="0.8"/>
<line x1="343.9" y1="409.95" x2="342.1" y2="409.95" stroke="#262626" stroke-width="0.8"/>
<line x1="249.5" y1="400.48" x2="250.7" y2="400.48" stroke="#262626" stroke-width="0.8"/>
<line x1="343.9" y1="400.48" x2="342.7" y2="400.48" stroke="#262626" stroke-width="0.8"/>
<line x1="249.5" y1="391.01" x2="251.3" y2="391.01" stroke="#262626" stroke-width="0.8"/>
<line x1="343.9" y1="391.01" x2="342.1" y2="391.01" stroke="#262626" stroke-width="0.8"/>
<line x1="249.5" y1="381.54" x2="250.7" y2="381.54" stroke="#262626" stroke-width="0.8"/>
<line x1="343.9" y1="381.54" x2="342.7" y2="381.54" stroke="#262626" stroke-width="0.8"/>
<line x1="249.5" y1="372.07" x2="251.3" y2="372.07" stroke="#262626" stroke-width="0.8"/>
<line x1="343.9" y1="372.07" x2="342.1" y2="372.07" stroke="#262626" stroke-width="0.8"/>
<rect x="249.5" y="457.3" width="94.4" height="94.1" fill="none" stroke="#262626" stroke-width="1.25"/>
<line x1="265.23" y1="457.3" x2="265.23" y2="459.1" stroke="#262626" stroke-width="0.8"/>
<line x1="265.23" y1="551.4" x2="265.23" y2="549.6" stroke="#262626" stroke-width="0.8"/>
<line x1="280.97" y1="457.3" x2="280.97" y2="459.1" stroke="#262626" stroke-width="0.8"/>
<line x1="280.97" y1="551.4" x2="280.97" y2="549.6" stroke="#262626" stroke-width="0.8"/>
<line x1="296.7" y1="457.3" x2="296.7" y2="459.1" stroke="#262626" stroke-width="0.8"/>
<line x1="296.7" y1="551.4" x2="296.7" y2="549.6" stroke="#262626" stroke-width="0.8"/>
<line x1="312.43" y1="457.3" x2="312.43" y2="459.1" stroke="#262626" stroke-width="0.8"/>
<line x1="312.43" y1="551.4" x2="312.43" y2="549.6" stroke="#262626" stroke-width="0.8"/>
<line x1="328.17" y1="457.3" x2="328.17" y2="459.1" stroke="#262626" stroke-width="0.8"/>
<line x1="328.17" y1="551.4" x2="328.17" y2="549.6" stroke="#262626" stroke-width="0.8"/>
<line x1="249.5" y1="541.99" x2="251.3" y2="541.99" stroke="#262626" stroke-width="0.8"/>
<line x1="343.9" y1="541.99" x2="342.1" y2="541.99" stroke="#262626" stroke-width="0.8"/>
<line x1="249.5" y1="532.58" x2="250.7" y2="532.58" stroke="#262626" stroke-width="0.8"/>
<line x1="343.9" y1="532.58" x2="342.7" y2="532.58" stroke="#262626" stroke-width="0.8"/>
<line x1="249.5" y1="523.17" x2="251.3" y2="523.17" stroke="#262626" stroke-width="0.8"/>
<line x1="343.9" y1="523.17" x2="342.1" y2="523.17" stroke="#262626" stroke-width="0.8"/>
<line x1="249.5" y1="513.76" x2="250.7" y2="513.76" stroke="#262626" stroke-width="0.8"/>
<line x1="343.9" y1="513.76" x2="342.7" y2="513.76" stroke="#262626" stroke-width="0.8"/>
<line x1="249.5" y1="504.35" x2="251.3" y2="504.35" stroke="#262626" stroke-width="0.8"/>
<line x1="343.9" y1="504.35" x2="342.1" y2="504.35" stroke="#262626" stroke-width="0.8"/>
<line x1="249.5" y1="494.94" x2="250.7" y2="494.94" stroke="#262626" stroke-width="0.8"/>
<line x1="343.9" y1="494.94" x2="342.7" y2="494.94" stroke="#262626" stroke-width="0.8"/>
<line x1="249.5" y1="485.53" x2="251.3" y2="485.53" stroke="#262626" stroke-width="0.8"/>
<line x1="343.9" y1="485.53" x2="342.1" y2="485.53" stroke="#262626" stroke-width="0.8"/>
<line x1="249.5" y1="476.12" x2="250.7" y2="476.12" stroke="#262626" stroke-width="0.8"/>
<line x1="343.9" y1="476.12" x2="342.7" y2="476.12" stroke="#262626" stroke-width="0.8"/>
<line x1="249.5" y1="466.71" x2="251.3" y2="466.71" stroke="#262626" stroke-width="0.8"/>
<line x1="343.9" y1="466.71" x2="342.1" y2="466.71" stroke="#262626" stroke-width="0.8"/>
<text x="58.2" y="186.33" font-size="8.9" font-weight="normal" text-anchor="end" fill="#1a1a1a"  stroke="#1a1a1a" stroke-width="0.18">800</text>
<text x="58.2" y="205.22" font-size="8.9" font-weight="normal" text-anchor="end" fill="#1a1a1a"  stroke="#1a1a1a" stroke-width="0.18">400</text>
<text x="58.2" y="224.11" font-size="8.9" font-weight="normal" text-anchor="end" fill="#1a1a1a"  stroke="#1a1a1a" stroke-width="0.18">0</text>
<text x="58.2" y="243" font-size="8.9" font-weight="normal" text-anchor="end" fill="#1a1a1a"  stroke="#1a1a1a" stroke-width="0.18">-400</text>
<text x="58.2" y="261.89" font-size="8.9" font-weight="normal" text-anchor="end" fill="#1a1a1a"  stroke="#1a1a1a" stroke-width="0.18">-800</text>
<text x="58.2" y="280.75" font-size="8.9" font-weight="normal" text-anchor="end" fill="#1a1a1a"  stroke="#1a1a1a" stroke-width="0.18">800</text>
<text x="58.2" y="299.58" font-size="8.9" font-weight="normal" text-anchor="end" fill="#1a1a1a"  stroke="#1a1a1a" stroke-width="0.18">400</text>
<text x="58.2" y="318.41" font-size="8.9" font-weight="normal" text-anchor="end" fill="#1a1a1a"  stroke="#1a1a1a" stroke-width="0.18">0</text>
<text x="58.2" y="337.24" font-size="8.9" font-weight="normal" text-anchor="end" fill="#1a1a1a"  stroke="#1a1a1a" stroke-width="0.18">-400</text>
<text x="58.2" y="356.07" font-size="8.9" font-weight="normal" text-anchor="end" fill="#1a1a1a"  stroke="#1a1a1a" stroke-width="0.18">-800</text>
<text x="58.2" y="374.96" font-size="8.9" font-weight="normal" text-anchor="end" fill="#1a1a1a"  stroke="#1a1a1a" stroke-width="0.18">800</text>
<text x="58.2" y="393.9" font-size="8.9" font-weight="normal" text-anchor="end" fill="#1a1a1a"  stroke="#1a1a1a" stroke-width="0.18">400</text>
<text x="58.2" y="412.84" font-size="8.9" font-weight="normal" text-anchor="end" fill="#1a1a1a"  stroke="#1a1a1a" stroke-width="0.18">0</text>
<text x="58.2" y="431.78" font-size="8.9" font-weight="normal" text-anchor="end" fill="#1a1a1a"  stroke="#1a1a1a" stroke-width="0.18">-400</text>
<text x="58.2" y="450.72" font-size="8.9" font-weight="normal" text-anchor="end" fill="#1a1a1a"  stroke="#1a1a1a" stroke-width="0.18">-800</text>
<text x="58.2" y="469.6" font-size="8.9" font-weight="normal" text-anchor="end" fill="#1a1a1a"  stroke="#1a1a1a" stroke-width="0.18">800</text>
<text x="58.2" y="488.42" font-size="8.9" font-weight="normal" text-anchor="end" fill="#1a1a1a"  stroke="#1a1a1a" stroke-width="0.18">400</text>
<text x="58.2" y="507.24" font-size="8.9" font-weight="normal" text-anchor="end" fill="#1a1a1a"  stroke="#1a1a1a" stroke-width="0.18">0</text>
<text x="58.2" y="526.06" font-size="8.9" font-weight="normal" text-anchor="end" fill="#1a1a1a"  stroke="#1a1a1a" stroke-width="0.18">-400</text>
<text x="58.2" y="544.88" font-size="8.9" font-weight="normal" text-anchor="end" fill="#1a1a1a"  stroke="#1a1a1a" stroke-width="0.18">-800</text>
<text x="60.4" y="559.9" font-size="8.9" font-weight="normal" text-anchor="middle" fill="#1a1a1a"  stroke="#1a1a1a" stroke-width="0.18">3.2</text>
<text x="92.4" y="559.9" font-size="8.9" font-weight="normal" text-anchor="middle" fill="#1a1a1a"  stroke="#1a1a1a" stroke-width="0.18">3.6</text>
<text x="123.8" y="559.9" font-size="8.9" font-weight="normal" text-anchor="middle" fill="#1a1a1a"  stroke="#1a1a1a" stroke-width="0.18">4</text>
<text x="154.2" y="559.9" font-size="8.9" font-weight="normal" text-anchor="middle" fill="#1a1a1a"  stroke="#1a1a1a" stroke-width="0.18">4.4</text>
<text x="186.63" y="559.9" font-size="8.9" font-weight="normal" text-anchor="middle" fill="#1a1a1a"  stroke="#1a1a1a" stroke-width="0.18">3.6</text>
<text x="218.07" y="559.9" font-size="8.9" font-weight="normal" text-anchor="middle" fill="#1a1a1a"  stroke="#1a1a1a" stroke-width="0.18">4</text>
<text x="248.5" y="559.9" font-size="8.9" font-weight="normal" text-anchor="middle" fill="#1a1a1a"  stroke="#1a1a1a" stroke-width="0.18">4.4</text>
<text x="280.97" y="559.9" font-size="8.9" font-weight="normal" text-anchor="middle" fill="#1a1a1a"  stroke="#1a1a1a" stroke-width="0.18">3.6</text>
<text x="312.43" y="559.9" font-size="8.9" font-weight="normal" text-anchor="middle" fill="#1a1a1a"  stroke="#1a1a1a" stroke-width="0.18">4</text>
<text x="342.9" y="559.9" font-size="8.9" font-weight="normal" text-anchor="middle" fill="#1a1a1a"  stroke="#1a1a1a" stroke-width="0.18">4.4</text>
<text x="156.3" y="575.6" font-size="9.3" font-weight="bold" text-anchor="start" fill="#111" >Voltage / V vs. Li/Li<tspan font-size="5.5" dy="-3.5">+</tspan></text>
<text transform="translate(31.2,354.3) rotate(-90)" x="0" y="0" font-size="9.6" font-weight="bold" text-anchor="middle" fill="#111">dQ/dV / mAh/g/V</text>
<text x="63.6" y="262.4" font-size="9.4" font-weight="bold" fill="#000">650<tspan font-size="5.6" dy="-3.2">o</tspan><tspan dy="3.2">C</tspan></text>
<text x="64.6" y="357.9" font-size="9.4" font-weight="bold" fill="#f80000">700<tspan font-size="5.6" dy="-3.2">o</tspan><tspan dy="3.2">C</tspan></text>
<text x="63.4" y="451.1" font-size="9.4" font-weight="bold" fill="#0000f8">750<tspan font-size="5.6" dy="-3.2">o</tspan><tspan dy="3.2">C</tspan></text>
<text x="63.4" y="546.7" font-size="9.4" font-weight="bold" fill="#00ee00">800<tspan font-size="5.6" dy="-3.2">o</tspan><tspan dy="3.2">C</tspan></text>
<line x1="66.4" y1="184" x2="75" y2="184" stroke="#000" stroke-width="1.8"/>
<text x="75.9" y="187" font-size="9.35" font-weight="bold" text-anchor="start" fill="#000" >Cycle 1 at C/20</text>
<line x1="66.4" y1="194.5" x2="75" y2="194.5" stroke="#f80000" stroke-width="1.8"/>
<text x="75.9" y="197.5" font-size="9.35" font-weight="bold" text-anchor="start" fill="#f80000" >Cycle 105 at C/20</text>
<line x1="251.3" y1="180" x2="259.9" y2="180" stroke="#000" stroke-width="1.8"/>
<text x="260.8" y="183" font-size="9.35" font-weight="bold" text-anchor="start" fill="#000" >Cycle 53 at C/20</text>
<line x1="251.3" y1="190.8" x2="259.9" y2="190.8" stroke="#f80000" stroke-width="1.8"/>
<text x="260.8" y="193.8" font-size="9.35" font-weight="bold" text-anchor="start" fill="#f80000" >Cycle 105 at C/20</text>
<text x="294.9" y="373.4" font-size="8.8" font-weight="normal" text-anchor="start" fill="#111" stroke="#111" stroke-width="0.25">Clipped</text>
<text x="299.2" y="467.6" font-size="8.8" font-weight="normal" text-anchor="start" fill="#111" stroke="#111" stroke-width="0.25">Clipped</text>
<text x="300.6" y="548.2" font-size="8.8" font-weight="normal" text-anchor="start" fill="#111" stroke="#111" stroke-width="0.25">Clipped</text>
<path d="M91,220.91C91.42,220.8 93.15,220.91 94,220.16C94.85,219.41 96.01,217.39 97,215.63C97.99,213.88 100.01,209.26 101,207.79C101.99,206.33 103.15,205.3 104,205.3C104.85,205.3 106.15,206.88 107,207.79C107.85,208.71 109.08,210.79 110,211.76C110.92,212.74 112.51,214.07 113.5,214.69C114.49,215.3 115.94,216.17 117,216.1C118.06,216.03 119.72,214.82 121,214.21C122.28,213.59 124.72,211.76 126,211.76C127.28,211.76 128.87,213.51 130,214.21C131.13,214.9 133.01,216.41 134,216.65C134.99,216.89 136.15,216.09 137,215.92C137.85,215.74 139.01,215.5 140,215.45C140.99,215.39 142.95,215.42 144,215.54C145.05,215.66 147.54,215.83 147.4,216.29C147.26,216.74 144.33,218.12 143,218.74C141.67,219.36 139.42,220.15 138,220.69C136.58,221.23 134.49,221.75 133,222.56C131.51,223.37 128.92,225.38 127.5,226.4C126.08,227.41 124.06,229.02 123,229.75C121.94,230.48 120.99,231.34 120,231.53C119.01,231.71 117.28,231.37 116,231.03C114.72,230.7 112.13,229.35 111,229.16C109.87,228.98 108.85,229.56 108,229.75C107.15,229.95 106.28,230.77 105,230.54C103.72,230.3 100.7,229.02 99,228.1C97.3,227.17 94.42,224.85 93,224C91.58,223.15 91.55,222.46 89,222.1C86.45,221.74 78.97,221.58 75,221.43C71.03,221.28 62.98,221.11 61,221.06" fill="none" stroke="#f00" stroke-width="1.8" stroke-linejoin="round"/>
<path d="M90,220.6C90.57,220.44 93.01,220.44 94,219.5C94.99,218.56 96.01,215.91 97,214C97.99,212.09 100.01,207.5 101,206C101.99,204.5 103.15,203.4 104,203.4C104.85,203.4 106.15,205.06 107,206C107.85,206.94 109.08,209.01 110,210C110.92,210.99 112.51,212.35 113.5,213C114.49,213.65 115.94,214.67 117,214.6C118.06,214.53 119.72,213.15 121,212.5C122.28,211.85 124.72,210 126,210C127.28,210 128.87,211.73 130,212.5C131.13,213.27 133.01,215.12 134,215.4C134.99,215.68 136.15,214.7 137,214.5C137.85,214.3 139.01,214.04 140,214C140.99,213.96 142.95,214.06 144,214.2C145.05,214.34 147.68,214.25 147.4,215C147.12,215.75 143.47,218.22 142,219.5C140.53,220.78 138.42,222.87 137,224C135.58,225.13 133.28,226.65 132,227.5C130.72,228.35 129.06,229.29 128,230C126.94,230.71 125.49,232.02 124.5,232.5C123.51,232.98 122.2,233.4 121,233.4C119.8,233.4 117.42,232.9 116,232.5C114.58,232.1 112.13,230.78 111,230.6C109.87,230.42 108.85,231 108,231.2C107.15,231.4 106.28,232.24 105,232C103.72,231.76 100.7,230.49 99,229.5C97.3,228.51 94.42,225.99 93,225C91.58,224.01 91.55,222.98 89,222.5C86.45,222.02 78.97,221.81 75,221.6C71.03,221.39 62.98,221.09 61,221" fill="none" stroke="#000" stroke-width="1.8" stroke-linejoin="round"/>
<path d="M183,221.28C183.43,221.09 185.22,220.35 186,219.93C186.78,219.51 187.72,219.83 188.5,218.32C189.28,216.81 190.61,211.8 191.5,209.29C192.39,206.78 193.88,201.05 194.8,200.6C195.72,200.15 196.91,204.72 198,206.1C199.09,207.47 201.37,209.3 202.5,210.28C203.63,211.26 204.85,212.35 206,213.04C207.15,213.73 209.32,215.37 210.6,215.16C211.88,214.95 213.84,212.54 215,211.57C216.16,210.59 217.68,207.78 218.8,208.29C219.92,208.8 221.55,214.06 222.9,215.16C224.25,216.27 227.01,216.44 228.3,216.1C229.59,215.76 230.97,213.74 232,212.75C233.03,211.75 234.68,209.37 235.6,209.09C236.52,208.81 237.54,209.74 238.5,210.78C239.46,211.81 242.33,215.08 242.4,216.38C242.47,217.67 239.85,219.07 239,219.93C238.15,220.8 237.25,221.43 236.4,222.48C235.55,223.53 233.91,225.74 233,227.33C232.09,228.93 230.78,233.16 230,233.71C229.22,234.26 228.49,232 227.5,231.23C226.51,230.46 224.05,228.73 223,228.29C221.95,227.85 221.09,227.4 220.1,228.1C219.11,228.8 217.15,232.84 216,233.21C214.85,233.59 212.95,231.29 212,230.73C211.05,230.17 210.15,229.54 209.3,229.26C208.45,228.98 206.77,228.95 206,228.78C205.23,228.6 204.75,227.56 203.9,228C203.05,228.45 201.54,231.91 200,231.92C198.46,231.94 194.84,229.1 193,228.1C191.16,227.1 188.35,225.53 187,224.86C185.65,224.19 185.2,223.7 183.5,223.34C181.8,222.99 177.62,222.55 175,222.33C172.38,222.11 167.81,221.93 165,221.8C162.19,221.67 156.59,221.48 155.2,221.43" fill="none" stroke="#f00" stroke-width="1.8" stroke-linejoin="round"/>
<path d="M183.5,221.5C183.93,221.33 185.73,220.68 186.5,220.3C187.27,219.92 188.12,220.26 188.9,218.8C189.68,217.34 191.11,212.69 192,210C192.89,207.31 194.29,200.48 195.2,199.8C196.11,199.12 197.37,203.85 198.4,205.2C199.43,206.55 201.42,208.34 202.5,209.3C203.58,210.26 204.85,211.31 206,212C207.15,212.69 209.32,214.41 210.6,214.2C211.88,213.99 213.84,211.51 215,210.5C216.16,209.49 217.68,206.58 218.8,207.1C219.92,207.62 221.55,213.04 222.9,214.2C224.25,215.36 227.01,215.61 228.3,215.3C229.59,214.99 231.04,212.94 232,212C232.96,211.06 234.28,208.9 235.1,208.7C235.92,208.5 236.77,209.66 237.8,210.6C238.83,211.53 242.23,214.04 242.4,215.3C242.57,216.56 239.85,218.42 239,219.5C238.15,220.58 237.34,221.47 236.4,222.9C235.47,224.33 233.36,227.31 232.4,229.6C231.44,231.89 230.29,238.55 229.6,239.1C228.91,239.65 228.44,234.79 227.5,233.5C226.56,232.21 224.05,230.55 223,230C221.95,229.45 221.09,228.89 220.1,229.6C219.11,230.31 217.15,234.59 216,235C214.85,235.41 212.95,233.07 212,232.5C211.05,231.93 210.15,231.14 209.3,231C208.45,230.86 206.77,231.43 206,231.5C205.23,231.57 204.78,231.19 203.9,231.5C203.02,231.81 201.34,233.97 199.8,233.7C198.26,233.43 194.81,230.69 193,229.6C191.19,228.51 188.35,226.77 187,226C185.65,225.23 185.2,224.65 183.5,224.2C181.8,223.75 177.62,223.11 175,222.8C172.38,222.49 167.81,222.18 165,222C162.19,221.82 156.59,221.57 155.2,221.5" fill="none" stroke="#000" stroke-width="1.8" stroke-linejoin="round"/>
<path d="M273.5,220.69C274,220.29 276.01,218.95 277,217.89C277.99,216.84 279.68,215.02 280.5,213.24C281.32,211.45 282.19,207.84 282.8,205.3C283.41,202.76 284.36,197.21 284.8,195.3C285.24,193.39 285.55,191.38 285.9,191.8C286.25,192.22 286.86,196.53 287.3,198.3C287.74,200.07 288.48,203 289,204.3C289.52,205.6 290.15,206.74 291,207.49C291.85,208.24 293.84,208.94 295,209.59C296.16,210.23 298,211.71 299.2,212.06C300.4,212.41 302.34,212.24 303.5,212.06C304.66,211.88 306.34,211.38 307.4,210.78C308.46,210.17 310.12,208.5 311,207.79C311.88,207.09 312.89,205.51 313.6,205.8C314.31,206.08 315.35,208.7 316,209.78C316.65,210.87 317.42,212.83 318.2,213.43C318.98,214.03 320.54,214.01 321.5,214.01C322.46,214.01 324.08,214.24 325,213.43C325.92,212.62 327.24,209.59 328,208.29C328.76,207 329.68,203.93 330.4,204.3C331.12,204.66 332.25,209.24 333.1,210.88C333.95,212.51 336.48,214.49 336.4,215.82C336.31,217.16 333.41,219.38 332.5,220.31C331.59,221.24 330.68,221.67 330,222.4C329.32,223.14 328.55,224.3 327.7,225.48C326.85,226.66 325.02,228.44 324,230.73C322.98,233.03 321.21,240.57 320.5,241.7C319.79,242.83 319.33,240.56 319,238.7C318.67,236.84 318.89,229.5 318.2,228.58C317.51,227.66 315.25,231.18 314.1,232.22C312.95,233.26 311.04,235.95 310.1,235.9C309.17,235.86 308.28,232.82 307.5,231.92C306.72,231.02 305.59,229.7 304.6,229.56C303.61,229.42 301.65,230.57 300.5,230.93C299.35,231.3 297.85,232.05 296.5,232.12C295.15,232.19 292.35,231.62 291,231.43C289.65,231.23 288.03,229.99 287,230.73C285.97,231.48 284.66,236.9 283.7,236.7C282.74,236.51 281.15,230.99 280.2,229.36C279.25,227.73 277.96,226.06 277,225.21C276.04,224.36 275.52,223.75 273.4,223.34C271.27,222.94 265.39,222.51 262,222.33C258.61,222.14 251.27,222.07 249.5,222.02" fill="none" stroke="#f00" stroke-width="1.8" stroke-linejoin="round"/>
<path d="M274.8,221.5C275.18,221.07 276.74,219.46 277.5,218.5C278.26,217.54 279.42,216.61 280.2,214.7C280.98,212.79 282.32,207.93 283,205C283.68,202.07 284.55,196.2 285,194C285.45,191.8 285.85,189.22 286.2,189.5C286.55,189.78 287.1,194.23 287.5,196C287.9,197.77 288.5,200.65 289,202C289.5,203.35 290.15,204.68 291,205.5C291.85,206.32 293.84,207.08 295,207.8C296.16,208.52 298,210.2 299.2,210.6C300.4,211 302.34,210.78 303.5,210.6C304.66,210.42 306.34,209.95 307.4,209.3C308.46,208.65 310.12,206.77 311,206C311.88,205.23 312.89,203.62 313.6,203.9C314.31,204.18 315.35,206.85 316,208C316.65,209.15 317.42,211.35 318.2,212C318.98,212.65 320.54,212.6 321.5,212.6C322.46,212.6 324.08,212.94 325,212C325.92,211.06 327.24,207.54 328,206C328.76,204.46 329.68,200.63 330.4,201.1C331.12,201.57 332.25,207.37 333.1,209.3C333.95,211.23 336.48,213.18 336.4,214.7C336.31,216.22 333.41,218.82 332.5,220C331.59,221.18 330.68,222.02 330,223C329.32,223.98 328.61,225 327.7,226.9C326.79,228.8 324.45,231.98 323.6,236.4C322.75,240.82 322.2,257.72 321.7,258.1C321.2,258.48 320.6,243.14 320.1,239.1C319.6,235.06 319.05,230.37 318.2,229.6C317.35,228.83 315.25,232.54 314.1,233.7C312.95,234.86 311.04,237.83 310.1,237.8C309.17,237.77 308.28,234.46 307.5,233.5C306.72,232.54 305.59,231.14 304.6,231C303.61,230.86 301.65,232.12 300.5,232.5C299.35,232.88 297.85,233.63 296.5,233.7C295.15,233.77 292.35,233.18 291,233C289.65,232.82 288.03,231.54 287,232.4C285.97,233.26 284.66,239.3 283.7,239.1C282.74,238.9 281.15,232.78 280.2,231C279.25,229.22 277.96,227.46 277,226.5C276.04,225.54 275.52,224.72 273.4,224.2C271.27,223.68 265.39,223.07 262,222.8C258.61,222.53 251.27,222.37 249.5,222.3" fill="none" stroke="#000" stroke-width="1.8" stroke-linejoin="round"/>
<path d="M93.5,315.58C93.85,315.46 95.32,315.22 96,314.76C96.68,314.31 97.79,314.13 98.3,312.37C98.81,310.6 99.15,304.43 99.6,302.29C100.05,300.16 100.73,297.51 101.5,297.3C102.27,297.09 103.7,299.55 105,300.8C106.3,302.04 109.42,305.04 110.7,306.06C111.98,307.09 113.05,307.51 114,308.02C114.95,308.53 116.41,309.83 117.4,309.65C118.39,309.47 120.05,307.44 121,306.75C121.95,306.06 123.25,304.74 124.1,304.78C124.95,304.82 126.23,306.42 127,307.05C127.77,307.67 128.65,308.69 129.5,309.18C130.35,309.67 132.05,310.26 133,310.49C133.95,310.73 135.35,310.97 136.2,310.86C137.05,310.76 138.23,310.12 139,309.75C139.77,309.37 140.85,308.77 141.6,308.22C142.35,307.67 143.53,305.69 144.3,305.87C145.07,306.04 146.9,308.48 147,309.46C147.1,310.44 145.77,311.77 145,312.79C144.23,313.8 142.52,315.61 141.6,316.63C140.68,317.64 139.36,319.02 138.5,319.96C137.64,320.9 136.21,322.45 135.5,323.27C134.79,324.09 134,325.82 133.5,325.73C133,325.63 132.78,323.17 132,322.59C131.22,322.01 128.92,321.61 128,321.63C127.08,321.66 126.35,322.26 125.5,322.78C124.65,323.31 122.96,324.77 122,325.33C121.04,325.89 119.76,326.87 118.7,326.72C117.64,326.56 115.63,324.74 114.5,324.25C113.37,323.76 111.76,323.06 110.7,323.27C109.64,323.48 107.95,325.05 107,325.73C106.05,326.4 105.13,328.32 104,328.01C102.87,327.7 100.33,324.64 99,323.56C97.67,322.49 95.88,321.25 94.6,320.42C93.32,319.59 91.15,318.27 90,317.73C88.85,317.18 88.62,316.79 86.5,316.55C84.38,316.31 78.61,316.14 75,316.03C71.39,315.91 62.98,315.77 61,315.73" fill="none" stroke="#f00" stroke-width="1.8" stroke-linejoin="round"/>
<path d="M93.2,315.8C93.6,315.69 95.23,315.38 96,315C96.77,314.62 98.03,315.2 98.6,313.1C99.17,311 99.55,302.78 100,300.2C100.45,297.62 101.05,295.08 101.8,294.9C102.55,294.72 104.04,297.57 105.3,298.9C106.56,300.23 109.47,303.22 110.7,304.3C111.93,305.38 113.05,305.93 114,306.5C114.95,307.07 116.41,308.51 117.4,308.3C118.39,308.09 120.05,305.76 121,305C121.95,304.24 123.25,302.83 124.1,302.9C124.95,302.97 126.23,304.81 127,305.5C127.77,306.19 128.65,307.28 129.5,307.8C130.35,308.32 132.05,308.94 133,309.2C133.95,309.45 135.35,309.77 136.2,309.6C137.05,309.43 138.23,308.57 139,308C139.77,307.43 140.85,306.32 141.6,305.6C142.35,304.88 143.68,303.13 144.3,302.9C144.92,302.67 145.62,303.24 146,304C146.38,304.76 147.14,307.03 147,308.3C146.86,309.57 145.77,311.48 145,313C144.23,314.52 142.45,317.65 141.6,319C140.75,320.35 139.69,321.55 139,322.5C138.31,323.45 137.41,324.37 136.7,325.7C135.99,327.03 134.67,332 134,331.9C133.33,331.8 132.37,326.25 132,325C131.63,323.75 131.97,323.36 131.4,323.1C130.83,322.85 128.84,323.02 128,323.2C127.16,323.38 126.35,323.86 125.5,324.4C124.65,324.94 122.96,326.43 122,327C121.04,327.57 119.76,328.54 118.7,328.4C117.64,328.26 115.63,326.48 114.5,326C113.37,325.52 111.76,324.79 110.7,325C109.64,325.21 107.95,326.82 107,327.5C106.05,328.18 105.13,330.15 104,329.8C102.87,329.45 100.33,326.15 99,325C97.67,323.85 95.88,322.62 94.6,321.7C93.32,320.78 91.15,319.18 90,318.5C88.85,317.82 88.62,317.23 86.5,316.9C84.38,316.57 78.61,316.36 75,316.2C71.39,316.04 62.98,315.86 61,315.8" fill="none" stroke="#000" stroke-width="1.8" stroke-linejoin="round"/>
<path d="M182.2,316.03C182.67,315.79 184.61,315.09 185.5,314.38C186.39,313.68 187.69,313.68 188.5,311.04C189.31,308.41 190.53,298.74 191.2,295.8C191.87,292.86 192.59,289.97 193.2,290.3C193.81,290.63 194.56,296.71 195.5,298.1C196.44,299.49 198.43,299.14 199.8,300.1C201.17,301.06 203.47,303.65 205.2,304.88C206.93,306.11 210.54,308.77 212,308.8C213.46,308.82 214.54,306 215.5,305.08C216.46,304.16 217.57,301.66 218.8,302.29C220.03,302.93 222.67,308.48 224.2,309.56C225.73,310.64 228.35,310.75 229.6,309.93C230.85,309.12 232.15,305.43 233,303.79C233.85,302.14 234.75,298.37 235.6,298.3C236.45,298.23 238.04,301.47 239,303.29C239.96,305.11 242.33,309.46 242.4,311.13C242.47,312.81 240.35,313.94 239.5,315.14C238.65,316.34 237.22,317.68 236.4,319.6C235.58,321.52 234.39,325.44 233.7,328.71C233.01,331.98 232.05,342.63 231.5,342.7C230.95,342.77 230.25,331.56 229.8,329.21C229.35,326.86 229.09,327.11 228.3,326.12C227.51,325.13 225.23,322.37 224.2,322.21C223.17,322.04 221.88,324.09 221,324.94C220.12,325.79 218.85,328.15 218,328.21C217.15,328.27 215.85,326.02 215,325.33C214.15,324.64 213.39,323.84 212,323.37C210.61,322.9 206.76,321.74 205.2,322.02C203.64,322.29 202.15,324.3 201,325.33C199.85,326.36 198.16,328.94 197.1,329.31C196.04,329.67 194.46,328.45 193.5,327.91C192.54,327.38 191.36,326.63 190.3,325.53C189.24,324.43 187.16,321.36 186,320.14C184.84,318.93 184.37,317.45 182.1,316.93C179.83,316.41 173.81,316.59 170,316.48C166.19,316.36 157.3,316.15 155.2,316.1" fill="none" stroke="#f00" stroke-width="1.8" stroke-linejoin="round"/>
<path d="M182.7,316.3C183.17,316.05 185.12,315.19 186,314.5C186.88,313.81 188.11,314.15 188.9,311.4C189.69,308.65 190.95,298.36 191.6,295.1C192.25,291.84 192.92,288.2 193.5,288.4C194.08,288.6 194.81,295.08 195.7,296.5C196.59,297.92 198.45,297.44 199.8,298.4C201.15,299.36 203.47,302.03 205.2,303.3C206.93,304.57 210.54,307.37 212,307.4C213.46,307.43 214.54,304.46 215.5,303.5C216.46,302.54 217.57,299.93 218.8,300.6C220.03,301.27 222.67,307.05 224.2,308.2C225.73,309.35 228.35,309.58 229.6,308.7C230.85,307.82 232.22,303.62 233,302C233.78,300.38 234.31,297.12 235.1,297.3C235.89,297.48 237.57,301.49 238.6,303.3C239.63,305.11 242.27,308.44 242.4,310.1C242.53,311.76 240.35,313.47 239.5,315C238.65,316.53 237.22,318.72 236.4,320.9C235.58,323.08 234.39,326.75 233.7,330.4C233.01,334.05 232.05,346.62 231.5,346.7C230.95,346.78 230.25,333.69 229.8,331C229.35,328.31 229.09,328.75 228.3,327.7C227.51,326.65 225.23,323.77 224.2,323.6C223.17,323.43 221.88,325.61 221,326.5C220.12,327.39 218.85,329.83 218,329.9C217.15,329.97 215.85,327.69 215,327C214.15,326.31 213.39,325.48 212,325C210.61,324.52 206.76,323.32 205.2,323.6C203.64,323.88 202.15,326.04 201,327C199.85,327.96 198.16,330.12 197.1,330.4C196.04,330.68 194.46,329.57 193.5,329C192.54,328.43 191.36,327.53 190.3,326.4C189.24,325.27 187.16,322.27 186,321C184.84,319.73 184.37,317.99 182.1,317.4C179.83,316.81 173.81,316.96 170,316.8C166.19,316.64 157.3,316.37 155.2,316.3" fill="none" stroke="#000" stroke-width="1.8" stroke-linejoin="round"/>
<path d="M266,315.65C266.71,315.58 269.75,315.32 271,315.14C272.25,314.96 273.91,316.49 274.8,314.38C275.69,312.28 276.75,303.21 277.3,300.3C277.85,297.38 278.18,294 278.7,293.8C279.22,293.6 280.46,298.61 281,298.9C281.54,299.18 281.91,299.28 282.5,295.8C283.09,292.31 284.56,274.51 285.2,274.3C285.84,274.09 286.36,290.33 287,294.3C287.64,298.27 288.85,300.96 289.7,302.29C290.55,303.62 292.04,303.4 293,303.69C293.96,303.97 295.04,303.53 296.5,304.28C297.96,305.03 301.88,308.48 303.3,308.99C304.72,309.49 305.54,308.38 306.5,307.83C307.46,307.27 309.09,306.78 310.1,305.08C311.11,303.37 312.64,295.45 313.6,295.8C314.56,296.15 316.06,305.53 316.9,307.54C317.74,309.54 318.74,309.57 319.5,309.93C320.26,310.3 321.52,310.92 322.3,310.12C323.08,309.32 324.42,306.1 325,304.28C325.58,302.47 325.9,301.48 326.4,297.3C326.9,293.12 327.93,275.15 328.5,274.8C329.07,274.45 329.75,290.13 330.4,294.8C331.05,299.46 332.25,305.29 333.1,307.73C333.95,310.17 336.41,310.85 336.4,312.02C336.39,313.2 333.85,314.87 333,316.03C332.15,317.18 331.07,317.87 330.4,320.14C329.73,322.42 328.87,327.28 328.3,332.1C327.73,336.93 326.94,354.64 326.4,354.2C325.86,353.76 324.9,333.28 324.5,329.01C324.1,324.74 324.29,324.95 323.6,324.05C322.91,323.16 320.61,322.69 319.6,322.69C318.59,322.69 317.28,323.48 316.5,324.05C315.72,324.62 314.74,324.98 314.1,326.72C313.46,328.45 312.57,335.54 312,336.3C311.43,337.06 310.95,333.46 310.1,332.1C309.25,330.74 307.15,327.72 306,326.72C304.85,325.72 303.15,325.41 302,325.03C300.85,324.66 299.64,324 297.9,324.05C296.16,324.11 291.44,324.29 289.7,325.43C287.96,326.57 286.45,328.52 285.6,332.1C284.75,335.68 284.28,350.86 283.7,350.7C283.12,350.54 282.07,334.58 281.5,331C280.93,327.42 280.15,327.36 279.7,325.43C279.25,323.5 278.81,317.4 278.3,317.4C277.79,317.4 276.71,323.64 276.1,325.43C275.49,327.21 274.76,330.57 274,330C273.24,329.44 271.93,323.27 270.7,321.44C269.47,319.62 267.1,317.81 265.3,317.09C263.5,316.36 260.24,316.46 258,316.32C255.76,316.18 250.7,316.13 249.5,316.1" fill="none" stroke="#f00" stroke-width="1.8" stroke-linejoin="round"/>
<path d="M266.6,315.5C267.22,315.4 269.84,315.07 271,314.8C272.16,314.53 273.88,315.99 274.8,313.6C275.72,311.21 276.92,300.97 277.5,297.9C278.08,294.83 278.4,291.98 278.9,291.9C279.4,291.81 280.49,297 281,297.3C281.51,297.6 281.88,297.67 282.5,294C283.12,290.33 284.76,271.63 285.4,271.4C286.04,271.17 286.39,288.26 287,292.4C287.61,296.54 288.85,299.24 289.7,300.6C290.55,301.96 292.04,301.7 293,302C293.96,302.3 295.04,301.94 296.5,302.7C297.96,303.46 301.88,306.89 303.3,307.4C304.72,307.91 305.54,306.88 306.5,306.3C307.46,305.72 309.09,305.07 310.1,303.3C311.11,301.53 312.64,293.42 313.6,293.8C314.56,294.18 316.06,303.92 316.9,306C317.74,308.08 318.74,308.12 319.5,308.5C320.26,308.88 321.52,309.62 322.3,308.7C323.08,307.78 324.42,303.93 325,302C325.58,300.07 325.9,299.34 326.4,295.1C326.9,290.86 327.93,272.48 328.5,272.1C329.07,271.72 329.75,287.6 330.4,292.4C331.05,297.2 332.25,303.38 333.1,306C333.95,308.62 336.41,309.48 336.4,310.9C336.39,312.32 333.85,314.58 333,316C332.15,317.42 331.07,318.48 330.4,320.9C329.73,323.32 328.87,328.28 328.3,333.1C327.73,337.92 326.94,355.34 326.4,354.9C325.86,354.46 324.9,334.24 324.5,330C324.1,325.76 324.29,325.91 323.6,325C322.91,324.09 320.61,323.6 319.6,323.6C318.59,323.6 317.28,324.42 316.5,325C315.72,325.58 314.74,325.86 314.1,327.7C313.46,329.54 312.57,337.24 312,338C311.43,338.76 310.95,334.56 310.1,333.1C309.25,331.64 307.15,328.71 306,327.7C304.85,326.69 303.15,326.38 302,326C300.85,325.62 299.64,324.94 297.9,325C296.16,325.06 291.44,325.25 289.7,326.4C287.96,327.55 286.45,329.26 285.6,333.1C284.75,336.94 284.28,353.66 283.7,353.5C283.12,353.34 282.07,335.84 281.5,332C280.93,328.16 280.15,328.54 279.7,326.4C279.25,324.26 278.81,316.9 278.3,316.9C277.79,316.9 276.71,324.4 276.1,326.4C275.49,328.4 274.76,331.58 274,331C273.24,330.42 271.93,324.23 270.7,322.3C269.47,320.37 267.1,318.21 265.3,317.4C263.5,316.59 260.24,316.76 258,316.6C255.76,316.44 250.7,316.34 249.5,316.3" fill="none" stroke="#000" stroke-width="1.8" stroke-linejoin="round"/>
<path d="M89.5,409.99C89.92,409.83 91.78,409.37 92.5,408.87C93.22,408.36 93.88,408.56 94.6,406.42C95.32,404.29 96.89,396.44 97.6,393.8C98.31,391.16 98.92,388.01 99.6,387.8C100.28,387.59 101.21,390.95 102.4,392.3C103.59,393.64 106.26,395.99 108,397.29C109.74,398.59 113,401.24 114.7,401.45C116.4,401.66 118.67,399.37 120,398.78C121.33,398.19 122.75,396.77 124.1,397.29C125.45,397.81 127.97,401.51 129.5,402.42C131.03,403.34 133.62,404.64 134.9,403.77C136.18,402.9 137.55,398.41 138.5,396.29C139.45,394.17 140.96,389.08 141.6,388.8C142.24,388.52 142.59,392.59 143,394.3C143.41,396.01 143.86,399.38 144.5,400.86C145.14,402.33 147.5,403.56 147.5,404.71C147.5,405.86 145.34,407.77 144.5,408.94C143.66,410.11 142.38,411.57 141.6,412.96C140.82,414.35 139.72,416.73 139,418.75C138.28,420.76 137.07,426.78 136.5,427.2C135.93,427.62 135.34,422.83 135,421.71C134.66,420.6 134.88,420.11 134.1,419.34C133.32,418.56 130.65,416.23 129.5,416.23C128.35,416.23 126.95,418.42 126,419.34C125.05,420.25 124.02,422.88 122.8,422.71C121.58,422.54 119.11,419 117.4,418.16C115.69,417.32 112.17,416.41 110.7,416.8C109.23,417.19 107.95,419.71 107,420.92C106.05,422.12 105.06,425.44 104,425.3C102.94,425.16 100.65,421.24 99.5,419.93C98.35,418.62 97.1,417.05 95.9,416.04C94.7,415.02 92.13,413.47 91,412.79C89.87,412.11 90.17,411.58 87.9,411.26C85.63,410.95 78.81,410.73 75,410.58C71.19,410.43 62.98,410.26 61,410.21" fill="none" stroke="#f00" stroke-width="1.8" stroke-linejoin="round"/>
<path d="M89.2,409.8C89.6,409.55 91.23,408.68 92,408C92.77,407.32 93.74,407.34 94.6,405C95.46,402.66 97.33,394.25 98.1,391.5C98.86,388.75 99.36,385.78 100,385.6C100.64,385.42 101.47,388.8 102.6,390.2C103.73,391.6 106.29,394.17 108,395.5C109.71,396.83 113,399.39 114.7,399.6C116.4,399.81 118.67,397.58 120,397C121.33,396.42 122.75,394.95 124.1,395.5C125.45,396.05 127.97,399.94 129.5,400.9C131.03,401.86 133.7,402.85 134.9,402.3C136.1,401.75 137.25,398.44 138,397C138.75,395.56 139.63,392.38 140.2,392.1C140.77,391.82 141.42,393.94 142,395C142.58,396.06 143.52,398.38 144.3,399.6C145.08,400.82 147.47,402.27 147.5,403.6C147.53,404.93 145.34,407.48 144.5,409C143.66,410.52 142.39,412.22 141.6,414.3C140.81,416.38 139.59,420.09 138.9,423.7C138.21,427.31 137.25,439.62 136.7,439.8C136.15,439.98 135.37,427.65 135,425C134.63,422.35 134.88,422.12 134.1,421.1C133.32,420.08 130.65,417.81 129.5,417.8C128.35,417.79 126.95,420.08 126,421C125.05,421.92 124.02,424.48 122.8,424.3C121.58,424.12 119.11,420.54 117.4,419.7C115.69,418.86 112.17,418 110.7,418.4C109.23,418.8 107.95,421.37 107,422.5C106.05,423.63 105.06,426.61 104,426.4C102.94,426.19 100.65,422.33 99.5,421C98.35,419.67 97.1,418.06 95.9,417C94.7,415.94 92.13,414.25 91,413.5C89.87,412.75 90.17,412.08 87.9,411.7C85.63,411.32 78.81,411 75,410.8C71.19,410.6 62.98,410.37 61,410.3" fill="none" stroke="#000" stroke-width="1.8" stroke-linejoin="round"/>
<path d="M175.4,410.21C175.84,410.07 177.73,409.62 178.5,409.24C179.27,408.86 180.09,409.22 180.8,407.53C181.51,405.83 182.54,399.9 183.5,397.29C184.46,394.68 186.64,391.02 187.6,389.1C188.56,387.17 189.53,383.81 190.3,383.7C191.07,383.59 191.85,386.87 193,388.3C194.15,389.73 196.67,392.45 198.4,393.8C200.13,395.14 203.47,396.66 205.2,397.79C206.93,398.91 209.21,401.74 210.6,401.74C211.99,401.74 213.84,398.73 215,397.79C216.16,396.85 217.5,394.36 218.8,395.1C220.1,395.83 222.67,401.88 224.2,403C225.73,404.12 228.44,404.24 229.6,403C230.76,401.77 231.71,398.65 232.4,394.3C233.09,389.95 233.93,372.72 234.5,372.3C235.07,371.88 235.75,386.95 236.4,391.3C237.05,395.65 238.25,401.04 239.1,403C239.95,404.97 242.34,404.23 242.4,405.17C242.46,406.11 240.35,408.42 239.5,409.62C238.65,410.82 237.14,411.44 236.4,413.65C235.66,415.86 234.87,419.95 234.3,425.2C233.73,430.45 232.94,450.56 232.4,450.7C231.86,450.84 230.9,430.73 230.5,426.2C230.1,421.68 230.11,420.52 229.6,418.75C229.09,416.97 227.76,414.03 226.9,413.65C226.04,413.27 224.46,415.31 223.5,416.04C222.54,416.76 221.03,417.45 220.1,418.75C219.16,420.04 218.05,425.2 216.9,425.2C215.75,425.2 213.66,419.85 212,418.75C210.34,417.64 206.69,417.07 205.2,417.38C203.71,417.69 202.46,419.97 201.5,420.92C200.54,421.87 199.6,423.46 198.4,424.11C197.2,424.75 194.15,424.3 193,425.5C191.85,426.71 191.01,433 190.3,432.6C189.59,432.2 188.58,424.67 188,422.71C187.42,420.75 187.04,419.45 186.2,418.75C185.36,418.05 183.06,417.71 182.1,417.77C181.14,417.82 179.97,419.5 179.4,419.14C178.83,418.77 178.87,416.34 178.1,415.19C177.33,414.04 175.86,411.7 174,411.03C172.14,410.37 167.66,410.62 165,410.51C162.34,410.39 156.59,410.25 155.2,410.21" fill="none" stroke="#f00" stroke-width="1.8" stroke-linejoin="round"/>
<path d="M180.8,410.3C181.11,410.12 182.42,409.5 183,409C183.58,408.5 184.25,408.84 184.9,406.8C185.55,404.76 187.03,397.29 187.6,394.6C188.17,391.91 188.4,389.73 188.9,387.8C189.4,385.87 190.52,381.2 191.1,381C191.68,380.8 191.97,384.86 193,386.4C194.03,387.94 196.67,390.55 198.4,391.9C200.13,393.25 203.47,394.75 205.2,395.9C206.93,397.05 209.21,399.99 210.6,400C211.99,400.01 213.84,396.96 215,396C216.16,395.04 217.5,392.44 218.8,393.2C220.1,393.96 222.67,400.24 224.2,401.4C225.73,402.56 228.44,402.75 229.6,401.4C230.76,400.05 231.71,396.52 232.4,391.9C233.09,387.28 233.93,369.2 234.5,368.8C235.07,368.4 235.75,384.48 236.4,389.1C237.05,393.72 238.25,399.27 239.1,401.4C239.95,403.52 242.34,402.95 242.4,404.1C242.46,405.25 240.35,407.97 239.5,409.5C238.65,411.03 237.14,412.41 236.4,414.9C235.66,417.39 234.87,421.52 234.3,427.1C233.73,432.68 232.94,454.17 232.4,454.3C231.86,454.43 230.9,432.8 230.5,428C230.1,423.2 230.11,422.26 229.6,420.4C229.09,418.54 227.76,415.31 226.9,414.9C226.04,414.49 224.46,416.72 223.5,417.5C222.54,418.28 221.03,419.04 220.1,420.4C219.16,421.76 218.05,427.1 216.9,427.1C215.75,427.1 213.66,421.55 212,420.4C210.34,419.25 206.69,418.7 205.2,419C203.71,419.3 202.46,421.54 201.5,422.5C200.54,423.46 199.6,425.15 198.4,425.8C197.2,426.45 194.35,426.72 193,427.1C191.65,427.48 189.86,429.45 188.9,428.5C187.94,427.55 187.16,421.75 186.2,420.4C185.24,419.05 183.25,419.58 182.1,419C180.95,418.42 179.25,417.38 178.1,416.3C176.95,415.22 175.86,412.19 174,411.4C172.14,410.61 167.66,410.86 165,410.7C162.34,410.54 156.59,410.36 155.2,410.3" fill="none" stroke="#000" stroke-width="1.8" stroke-linejoin="round"/>
<path d="M273.8,410.66C274.15,410.29 275.73,410.55 276.3,408.09C276.87,405.63 277.38,396.46 277.8,393.3C278.23,390.14 278.8,386.01 279.3,385.8C279.8,385.59 280.79,390.48 281.3,391.8C281.81,393.12 282.47,395.73 282.9,395.1C283.32,394.46 283.95,390.32 284.3,387.3C284.65,384.28 284.95,373.59 285.4,373.8C285.85,374.01 286.89,385.75 287.5,388.8C288.11,391.84 288.92,394.35 289.7,395.3C290.48,396.24 292.04,395.5 293,395.5C293.96,395.5 295.04,394.4 296.5,395.3C297.96,396.19 301.81,401.14 303.3,401.84C304.79,402.54 306.04,400.84 307,400.27C307.96,399.69 309.17,399.55 310.1,397.79C311.04,396.02 312.64,387.24 313.6,387.8C314.56,388.36 315.99,399.36 316.9,401.74C317.81,404.12 319.05,404.08 320,404.62C320.95,405.15 322.69,407.71 323.6,405.54C324.51,403.37 325.71,395.2 326.4,389.3C327.09,383.4 327.93,363.9 328.5,363.9C329.07,363.9 329.75,383.66 330.4,389.3C331.05,394.93 332.25,401.09 333.1,403.67C333.95,406.26 336.41,406.57 336.4,407.53C336.39,408.48 333.85,409.56 333,410.43C332.15,411.3 331.07,411.56 330.4,413.65C329.73,415.74 328.87,419.87 328.3,425.2C327.73,430.54 326.9,451.58 326.4,451.3C325.9,451.02 325.07,428.01 324.8,423.21C324.53,418.4 325.05,418.73 324.5,417.38C323.95,416.03 321.89,413.71 320.9,413.65C319.91,413.6 318.46,415.77 317.5,416.99C316.54,418.22 314.96,420.01 314.1,422.31C313.24,424.61 311.97,432.44 311.4,433.2C310.83,433.96 310.87,429.47 310.1,427.7C309.34,425.93 307.73,421.88 306,420.72C304.27,419.56 300.21,419.17 297.9,419.53C295.59,419.9 291.44,422.18 289.7,423.31C287.96,424.44 286.45,423.97 285.6,427.5C284.75,431.03 284.27,448.4 283.7,448.2C283.13,448 282.28,430.37 281.6,426.1C280.92,421.83 279.68,419.02 278.9,418.06C278.12,417.1 276.68,418.32 276.1,419.34C275.52,420.35 275.37,425.79 274.8,425.2C274.23,424.62 273.06,417.11 272.1,415.19C271.14,413.27 270,412.3 268,411.65C266,411 260.62,410.79 258,410.58C255.38,410.38 250.7,410.26 249.5,410.21" fill="none" stroke="#f00" stroke-width="1.8" stroke-linejoin="round"/>
<path d="M273.4,410.9C273.78,410.32 275.52,409.89 276.1,406.8C276.68,403.71 277.1,392.75 277.5,389.1C277.9,385.45 278.4,381 278.9,381C279.4,381 280.43,387.37 281,389.1C281.57,390.83 282.43,393.77 282.9,393.2C283.37,392.63 283.92,388.37 284.3,385.1C284.68,381.83 285.15,369.92 285.6,370.1C286.05,370.28 286.92,383.13 287.5,386.4C288.08,389.67 288.92,392.19 289.7,393.2C290.48,394.21 292.04,393.5 293,393.5C293.96,393.5 295.04,392.28 296.5,393.2C297.96,394.12 301.81,399.25 303.3,400C304.79,400.75 306.04,399.08 307,398.5C307.96,397.92 309.17,397.42 310.1,395.9C311.04,394.38 312.64,387.22 313.6,387.8C314.56,388.38 315.99,397.85 316.9,400C317.81,402.15 319.05,402.42 320,403C320.95,403.58 322.69,406.07 323.6,404.1C324.51,402.13 325.73,394.3 326.4,389.1C327.07,383.9 327.73,367.4 328.3,367.4C328.87,367.4 329.72,384.1 330.4,389.1C331.08,394.1 332.25,400.19 333.1,402.7C333.95,405.21 336.41,405.62 336.4,406.8C336.39,407.98 333.85,409.85 333,411C332.15,412.15 331.07,412.62 330.4,414.9C329.73,417.18 328.87,421.52 328.3,427.1C327.73,432.68 326.9,454.6 326.4,454.3C325.9,454 325.07,430 324.8,425C324.53,420 325.05,420.43 324.5,419C323.95,417.57 321.89,414.97 320.9,414.9C319.91,414.83 318.46,417.34 317.5,418.5C316.54,419.66 314.96,420.92 314.1,423.1C313.24,425.28 311.97,433.13 311.4,433.9C310.83,434.66 310.87,430.23 310.1,428.5C309.34,426.77 307.73,422.85 306,421.7C304.27,420.55 300.21,420.02 297.9,420.4C295.59,420.78 291.44,423.25 289.7,424.4C287.96,425.55 286.45,424.85 285.6,428.5C284.75,432.15 284.27,450.4 283.7,450.2C283.13,450 282.28,431.52 281.6,427.1C280.92,422.68 279.68,419.95 278.9,419C278.12,418.05 276.68,419.25 276.1,420.4C275.52,421.55 275.37,427.68 274.8,427.1C274.23,426.52 273.06,418.41 272.1,416.3C271.14,414.19 270,412.98 268,412.2C266,411.42 260.62,411.07 258,410.8C255.38,410.53 250.7,410.37 249.5,410.3" fill="none" stroke="#000" stroke-width="1.8" stroke-linejoin="round"/>
<path d="M88.3,505.06C88.61,504.81 89.98,504.73 90.5,503.34C91.02,501.95 91.6,498.1 92,495.26C92.4,492.42 92.93,485.69 93.3,483.3C93.67,480.91 94.15,478.4 94.6,478.4C95.05,478.4 95.55,482.25 96.5,483.3C97.45,484.35 99.85,484.88 101.3,485.8C102.75,486.72 104.8,488.32 106.7,489.8C108.6,491.27 112.82,495.82 114.7,496.24C116.58,496.66 118.67,493.51 120,492.78C121.33,492.06 122.75,490.42 124.1,491.09C125.45,491.76 128.1,496.52 129.5,497.5C130.9,498.48 132.94,498.58 134,497.98C135.06,497.38 136.26,495.93 137,493.28C137.74,490.64 138.72,483.12 139.2,479.3C139.68,475.48 139.96,466.02 140.4,466.3C140.84,466.58 141.79,477.76 142.3,481.3C142.81,484.84 143.41,489.04 144,491.29C144.59,493.55 146,496.03 146.5,497.21C147,498.4 147.64,499.02 147.5,499.66C147.36,500.31 146.07,501.03 145.5,501.76C144.93,502.49 144.07,503.55 143.5,504.83C142.93,506.11 141.94,508.14 141.5,510.82C141.06,513.49 140.73,519.04 140.4,523.7C140.07,528.36 139.64,543.84 139.2,543.7C138.76,543.56 137.91,527.22 137.3,522.7C136.69,518.18 136,513.49 134.9,511.78C133.8,510.07 130.76,510.4 129.5,510.63C128.24,510.85 126.95,512.54 126,513.34C125.05,514.15 124.02,516.15 122.8,516.31C121.58,516.48 119.11,514.81 117.4,514.53C115.69,514.25 112.6,514.02 110.7,514.33C108.8,514.64 105.52,515.88 104,516.71C102.48,517.54 101.15,519.71 100,520.2C98.85,520.7 96.86,521.19 95.9,520.2C94.94,519.22 94.15,514.89 93.2,513.24C92.25,511.6 90.33,509.59 89.2,508.58C88.07,507.58 87.21,506.63 85.2,506.13C83.19,505.63 78.43,505.26 75,505.06C71.57,504.85 62.98,504.74 61,504.68" fill="none" stroke="#f00" stroke-width="1.8" stroke-linejoin="round"/>
<path d="M87.9,505.3C88.2,504.93 89.43,504.6 90,502.7C90.57,500.8 91.45,494.55 91.9,491.9C92.35,489.25 92.63,485.33 93.2,484C93.77,482.67 94.75,482.51 95.9,482.5C97.05,482.49 99.77,483.13 101.3,483.9C102.83,484.66 104.8,486.38 106.7,487.9C108.6,489.42 112.82,494.16 114.7,494.6C116.58,495.04 118.67,491.76 120,491C121.33,490.24 122.75,488.49 124.1,489.2C125.45,489.91 128.1,494.97 129.5,496C130.9,497.03 133.05,496.78 134,496.5C134.95,496.22 135.51,496.17 136.2,494C136.89,491.83 138.33,486.06 138.9,481.2C139.47,476.34 139.75,459.7 140.2,459.7C140.65,459.7 141.33,475.87 142.1,481.2C142.87,486.53 144.83,494.83 145.6,497.3C146.37,499.77 147.59,497.79 147.5,498.6C147.41,499.41 145.65,501.67 145,503C144.35,504.33 143.58,505 142.9,508C142.22,511 140.77,518.49 140.2,524.2C139.63,529.91 139.35,548.3 138.9,548.3C138.45,548.3 137.57,529.14 137,524.2C136.43,519.26 135.96,515.11 134.9,513.4C133.84,511.69 130.76,511.87 129.5,512.1C128.24,512.33 126.95,514.14 126,515C125.05,515.86 124.02,518.04 122.8,518.2C121.58,518.36 119.11,516.4 117.4,516.1C115.69,515.8 112.31,515.76 110.7,516.1C109.09,516.44 107.33,517.74 106,518.5C104.67,519.26 102.28,519.94 101.3,521.5C100.32,523.06 99.67,529.5 99.1,529.5C98.53,529.5 98.14,523.78 97.3,521.5C96.46,519.22 94.35,515.11 93.2,513.4C92.05,511.69 90.33,510.35 89.2,509.4C88.07,508.45 87.21,507.28 85.2,506.7C83.19,506.12 78.43,505.57 75,505.3C71.57,505.03 62.98,504.87 61,504.8" fill="none" stroke="#000" stroke-width="1.8" stroke-linejoin="round"/>
<path d="M183.5,504.83C183.66,504.02 184.25,501.03 184.6,499.11C184.95,497.19 185.39,493.8 186,491.29C186.61,488.78 188.05,482.25 188.9,481.4C189.75,480.55 190.84,484.46 192,485.3C193.16,486.13 195.61,486.62 197.1,487.3C198.59,487.98 200.59,488.97 202.5,490.09C204.41,491.22 208.83,494.95 210.6,495.26C212.37,495.57 213.84,492.91 215,492.29C216.16,491.67 217.5,490.28 218.8,490.89C220.1,491.51 222.47,495.82 224.2,496.63C225.93,497.44 229.72,498.23 231,496.63C232.28,495.02 232.7,488.89 233.2,485.3C233.7,481.71 234.1,471.16 234.5,471.3C234.9,471.44 235.43,482.97 236,486.3C236.57,489.62 237.86,493.08 238.5,494.77C239.14,496.45 239.95,497.41 240.5,498.17C241.05,498.93 242.47,499.67 242.4,500.12C242.33,500.57 240.77,501.05 240,501.34C239.23,501.63 237.64,500.41 237,502.17C236.36,503.93 235.97,508.56 235.5,513.74C235.03,518.91 234.2,538.28 233.7,538.7C233.2,539.12 232.38,520.3 232,516.71C231.62,513.12 231.52,514.64 231,513.34C230.48,512.04 229.08,508.25 228.3,507.53C227.52,506.8 226.27,507.9 225.5,508.23C224.73,508.56 223.96,508.72 222.9,509.87C221.84,511.02 219.35,515.93 218,516.31C216.65,516.69 214.83,513.23 213.4,512.56C211.97,511.89 209.44,511.42 207.9,511.59C206.36,511.75 204.04,512.94 202.5,513.74C200.96,514.53 198.35,516.48 197,517.21C195.65,517.94 193.99,518.55 193,518.9C192.01,519.26 190.62,519.73 190,519.7C189.38,519.68 189.32,520.1 188.6,518.7C187.88,517.31 186.12,511.44 184.9,509.87C183.68,508.3 181.16,508.09 180,507.62C178.84,507.14 178.82,506.84 176.7,506.53C174.57,506.22 168.05,505.64 165,505.43C161.95,505.22 156.59,505.11 155.2,505.06" fill="none" stroke="#f00" stroke-width="1.8" stroke-linejoin="round"/>
<path d="M183.5,504.5C183.6,503.44 184,499.11 184.2,497C184.4,494.89 184.62,491.61 184.9,489.6C185.18,487.59 185.63,483.58 186.2,482.8C186.77,482.02 187.94,484.1 188.9,484.1C189.86,484.1 191.84,482.6 193,482.8C194.16,483 195.75,484.74 197.1,485.5C198.45,486.26 200.59,487.05 202.5,488.2C204.41,489.35 208.83,493.27 210.6,493.6C212.37,493.93 213.84,491.15 215,490.5C216.16,489.85 217.5,488.36 218.8,489C220.1,489.64 222.47,494.15 224.2,495C225.93,495.85 229.72,496.93 231,495C232.28,493.07 232.73,486.4 233.2,481.4C233.67,476.4 233.92,459.7 234.3,459.7C234.68,459.7 235.22,476.2 235.9,481.4C236.58,486.6 238.18,493.89 239.1,496.4C240.02,498.91 242.27,498.24 242.4,499.1C242.53,499.96 240.65,501.54 240,502.5C239.35,503.46 238.49,503.51 237.8,505.9C237.11,508.29 235.75,513.63 235.1,519.4C234.45,525.17 233.71,546.51 233.2,546.6C232.69,546.69 231.81,524.42 231.5,520C231.19,515.58 231.45,517.01 231,515.4C230.55,513.78 229.08,509.44 228.3,508.6C227.52,507.76 226.27,509.12 225.5,509.5C224.73,509.88 223.96,510.08 222.9,511.3C221.84,512.52 219.35,517.72 218,518.1C216.65,518.48 214.83,514.78 213.4,514C211.97,513.22 209.44,512.22 207.9,512.6C206.36,512.98 203.76,514.58 202.5,516.7C201.24,518.83 200.28,528.18 199,527.6C197.72,527.02 194.55,515.87 193.5,512.6C192.45,509.33 191.98,503.15 191.6,504.5C191.22,505.85 191.18,519.79 190.8,522.1C190.42,524.41 189.74,522.33 188.9,520.8C188.06,519.27 186.16,513.04 184.9,511.3C183.64,509.56 181.16,509.08 180,508.5C178.84,507.92 178.82,507.58 176.7,507.2C174.57,506.82 168.05,506.07 165,505.8C161.95,505.53 156.59,505.37 155.2,505.3" fill="none" stroke="#000" stroke-width="1.8" stroke-linejoin="round"/>
<path d="M280.2,504.46C280.38,503.57 281.12,499.91 281.5,498.17C281.88,496.43 282.32,493.42 282.9,492.19C283.48,490.96 284.74,489.55 285.6,489.5C286.46,489.44 288.04,491.21 289,491.79C289.96,492.37 291.12,493.44 292.4,493.58C293.67,493.72 296.46,492.97 298,492.78C299.54,492.6 301.88,492.64 303.3,492.29C304.72,491.93 306.65,491.27 308,490.29C309.35,489.32 311.54,484.56 312.8,485.4C314.06,486.24 315.37,494.34 316.9,496.24C318.43,498.14 322.17,498.62 323.6,498.83C325.03,499.04 326.22,498.06 327,497.69C327.78,497.33 328.25,496.11 329.1,496.24C329.95,496.37 331.97,497.93 333,498.64C334.03,499.35 336.68,500.7 336.4,501.26C336.12,501.81 332.62,502.26 331,502.57C329.38,502.88 326.16,503.2 325,503.42C323.84,503.63 323.18,501.63 322.8,504.09C322.42,506.55 322.56,519.01 322.3,520.8C322.05,522.59 321.89,517.4 321,516.71C320.11,516.02 317.36,516.1 316,515.92C314.64,515.73 313.1,515.7 311.4,515.42C309.7,515.14 305.91,514.31 304,513.93C302.09,513.56 299.6,512.78 297.9,512.75C296.2,512.73 293.54,513.54 292,513.74C290.46,513.93 288.29,514.07 287,514.13C285.71,514.19 284.05,514.69 282.9,514.13C281.75,513.57 280.16,511.07 278.9,510.15C277.64,509.23 275.16,508.13 274,507.62C272.84,507.1 272.68,506.84 270.7,506.53C268.72,506.22 263,505.64 260,505.43C257,505.22 250.99,505.11 249.5,505.06" fill="none" stroke="#f00" stroke-width="1.8" stroke-linejoin="round"/>
<path d="M277.5,505.3C277.6,504.12 278,499.22 278.2,497C278.4,494.78 278.62,491.81 278.9,489.6C279.18,487.39 279.75,481.98 280.2,481.4C280.65,480.82 281.6,485.3 282.1,485.5C282.6,485.7 283.2,484.91 283.7,482.8C284.2,480.69 285.06,470.02 285.6,470.6C286.14,471.18 286.72,484.02 287.5,486.9C288.28,489.78 289.83,490.9 291.1,490.9C292.38,490.9 294.77,486.7 296.5,486.9C298.23,487.1 301.81,491.79 303.3,492.3C304.79,492.81 306.04,491.08 307,490.5C307.96,489.92 309.17,489.11 310.1,488.2C311.04,487.29 312.64,483.14 313.6,484.1C314.56,485.06 315.48,493.07 316.9,495C318.32,496.93 322.25,500.01 323.6,497.7C324.95,495.39 325.73,482.54 326.4,478.7C327.07,474.86 327.8,470.22 328.3,470.6C328.8,470.98 329.4,477.94 329.9,481.4C330.4,484.86 330.88,492.31 331.8,495C332.72,497.69 336.09,499.12 336.4,500.4C336.71,501.67 334.65,503.04 334,504C333.35,504.96 332.49,505.02 331.8,507.2C331.11,509.38 329.75,514.6 329.1,519.4C328.45,524.2 327.71,541.01 327.2,541.1C326.69,541.19 325.81,523.46 325.5,520C325.19,516.54 325.45,518.13 325,516.7C324.55,515.27 323.22,510.5 322.3,509.9C321.38,509.3 319.46,511.72 318.5,512.5C317.54,513.28 316.42,513.64 315.5,515.4C314.58,517.16 313.15,524.72 312,524.9C310.85,525.08 308.82,518.02 307.4,516.7C305.98,515.38 302.89,517.33 302,515.6C301.11,513.87 301.3,504.53 301.1,504.5C300.9,504.47 301.25,513.67 300.6,515.4C299.95,517.13 298.04,516.32 296.5,516.7C294.96,517.08 291.24,517.34 289.7,518.1C288.16,518.87 286.45,519.22 285.6,522.1C284.75,524.98 284.21,538.98 283.7,538.4C283.19,537.82 282.5,521.46 282,518C281.5,514.54 281.04,515.13 280.2,514C279.36,512.87 277.06,510.38 276.1,510C275.14,509.62 274.16,511.7 273.4,511.3C272.63,510.9 272.6,507.98 270.7,507.2C268.8,506.42 263,506.07 260,505.8C257,505.53 250.99,505.37 249.5,505.3" fill="none" stroke="#000" stroke-width="1.8" stroke-linejoin="round"/>
<line x1="248.5" y1="170.6" x2="248.5" y2="364.2" stroke="#c80808" stroke-width="3.4" stroke-dasharray="12.1 10.4"/>
<line x1="246.8" y1="172.6" x2="343.5" y2="172.6" stroke="#c80808" stroke-width="3.0" stroke-dasharray="13 9.5" stroke-dashoffset="9"/>
<line x1="341.9" y1="172.6" x2="341.9" y2="364.2" stroke="#c80808" stroke-width="3.4" stroke-dasharray="12.6 9.85" stroke-dashoffset="13.25"/>
<line x1="246.8" y1="362.6" x2="343.5" y2="362.6" stroke="#c80808" stroke-width="3.0" stroke-dasharray="13 9.6" stroke-dashoffset="6.8"/>
</svg>
</body></html>
